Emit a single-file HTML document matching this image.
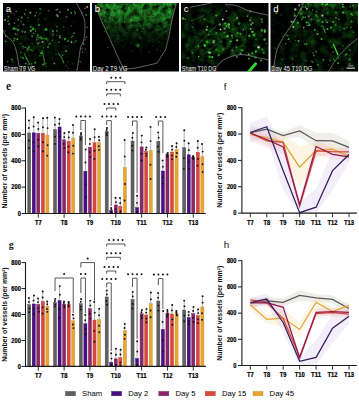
<!DOCTYPE html>
<html><head><meta charset="utf-8"><style>
html,body{margin:0;padding:0;background:#fff;width:359px;height:400px;overflow:hidden}
svg{display:block}
</style></head><body>
<svg width="359" height="400" viewBox="0 0 359 400">
<rect width="359" height="400" fill="#fff"/>
<defs>
<filter id="nz" x="0" y="0" width="1" height="1" color-interpolation-filters="sRGB"><feTurbulence type="fractalNoise" baseFrequency="0.22" numOctaves="3" seed="4"/><feColorMatrix type="matrix" values="0.4 0 0 0 -0.16  1.3 0 0 0 -0.44  0.35 0 0 0 -0.14  0 0 0 0 1"/><feGaussianBlur stdDeviation="0.35"/></filter>
<filter id="nzb" x="0" y="0" width="1" height="1" color-interpolation-filters="sRGB"><feTurbulence type="fractalNoise" baseFrequency="0.18" numOctaves="3" seed="9"/><feColorMatrix type="matrix" values="0.3 0 0 0 -0.06  1.2 0 0 0 -0.22  0.32 0 0 0 -0.06  0 0 0 0 1"/><feGaussianBlur stdDeviation="0.5"/></filter>
<filter id="nzc" x="0" y="0" width="1" height="1" color-interpolation-filters="sRGB"><feTurbulence type="fractalNoise" baseFrequency="0.13" numOctaves="3" seed="12"/><feColorMatrix type="matrix" values="0.35 0 0 0 -0.13  1.5 0 0 0 -0.55  0.35 0 0 0 -0.13  0 0 0 0 1"/><feGaussianBlur stdDeviation="0.4"/></filter>
<filter id="bl" x="-0.1" y="-0.1" width="1.2" height="1.2"><feGaussianBlur stdDeviation="0.3"/></filter>
<linearGradient id="gbm" x1="0" y1="0" x2="0" y2="1"><stop offset="0" stop-color="#fff"/><stop offset="0.2" stop-color="#ddd"/><stop offset="0.42" stop-color="#555"/><stop offset="0.6" stop-color="#151515"/><stop offset="0.75" stop-color="#000"/></linearGradient>
<radialGradient id="gcm" cx="0.45" cy="0.55" r="0.6"><stop offset="0" stop-color="#999"/><stop offset="0.6" stop-color="#666"/><stop offset="1" stop-color="#222"/></radialGradient>
<linearGradient id="gdm" x1="0" y1="0" x2="0" y2="1"><stop offset="0" stop-color="#aaa"/><stop offset="0.35" stop-color="#5a5a5a"/><stop offset="1" stop-color="#333"/></linearGradient>
<radialGradient id="gam" cx="0.45" cy="0.6" r="0.5"><stop offset="0" stop-color="#fff"/><stop offset="1" stop-color="#000"/></radialGradient>
<mask id="ma" maskUnits="userSpaceOnUse" x="0" y="0" width="359" height="80"><rect x="3" y="3" width="87" height="69" fill="url(#gam)"/></mask>
<mask id="mb" maskUnits="userSpaceOnUse" x="0" y="0" width="359" height="80"><path d="M97 10 L110.4 40 L124 69.3 L157 63.2 L165.5 49.7 L172 20 L176.4 3 L97 3 Z" fill="url(#gbm)"/></mask>
<mask id="mc" maskUnits="userSpaceOnUse" x="0" y="0" width="359" height="80"><path d="M181 8 L190 7.3 L211.6 3 L225 4.2 L249.5 11 L269 15.3 L269 60 L241 54.6 L225 59 L214 68 L181 70 Z" fill="url(#gcm)"/></mask>
<mask id="md" maskUnits="userSpaceOnUse" x="0" y="0" width="359" height="80"><rect x="270.5" y="3" width="88" height="69" fill="url(#gdm)"/><path d="M270 3 L303.7 3 C296 18 286 32 280 45 C276 55 274 62 273 72 L270 72Z" fill="#000" opacity="0.85"/></mask>
</defs>
<clipPath id="ca"><rect x="3" y="3" width="87" height="68.5"/></clipPath>
<rect x="3" y="3" width="87" height="68.5" fill="#000"/>
<g clip-path="url(#ca)">
<rect x="3" y="3" width="87" height="68.5" filter="url(#nz)" mask="url(#ma)" opacity="0.35"/>
<g filter="url(#bl)">
<circle cx="42.55" cy="41.99" r="1.06" fill="rgb(135,159,130)" opacity="0.88"/>
<circle cx="20.76" cy="57.24" r="0.84" fill="rgb(53,178,44)" opacity="0.54"/>
<circle cx="30.18" cy="12.67" r="1" fill="rgb(56,188,47)" opacity="0.77"/>
<circle cx="37.88" cy="35.31" r="0.97" fill="rgb(155,183,150)" opacity="0.51"/>
<circle cx="48.86" cy="10.72" r="0.7" fill="rgb(110,130,106)" opacity="0.85"/>
<circle cx="32.08" cy="43.93" r="0.7" fill="rgb(38,129,32)" opacity="0.72"/>
<circle cx="59.98" cy="35.58" r="0.74" fill="rgb(51,170,42)" opacity="0.88"/>
<circle cx="63.75" cy="26.7" r="0.71" fill="rgb(115,136,111)" opacity="0.75"/>
<circle cx="13.96" cy="13.74" r="0.75" fill="rgb(32,108,27)" opacity="0.88"/>
<circle cx="5.05" cy="20.11" r="1.06" fill="rgb(136,160,131)" opacity="0.82"/>
<circle cx="39.84" cy="42.39" r="0.7" fill="rgb(158,186,152)" opacity="0.54"/>
<circle cx="32.6" cy="67.25" r="0.98" fill="rgb(97,115,94)" opacity="0.82"/>
<circle cx="5.91" cy="36.06" r="0.84" fill="rgb(158,187,153)" opacity="0.7"/>
<circle cx="20.83" cy="52.74" r="0.67" fill="rgb(154,182,149)" opacity="0.68"/>
<circle cx="87.17" cy="7.03" r="1.03" fill="rgb(148,175,143)" opacity="0.9"/>
<circle cx="22.49" cy="31.64" r="1.03" fill="rgb(154,182,149)" opacity="0.52"/>
<circle cx="17.15" cy="34.6" r="0.6" fill="rgb(151,178,145)" opacity="0.63"/>
<circle cx="11.09" cy="12.63" r="0.89" fill="rgb(111,131,107)" opacity="0.67"/>
<circle cx="56.64" cy="14.95" r="0.89" fill="rgb(147,173,141)" opacity="0.67"/>
<circle cx="57.06" cy="26.43" r="0.71" fill="rgb(151,178,145)" opacity="0.59"/>
<circle cx="66.37" cy="65.78" r="0.7" fill="rgb(44,149,37)" opacity="0.77"/>
<circle cx="39.98" cy="13.49" r="0.62" fill="rgb(112,132,108)" opacity="0.82"/>
<circle cx="26.33" cy="58.48" r="0.9" fill="rgb(116,137,112)" opacity="0.92"/>
<circle cx="86.11" cy="14.9" r="0.84" fill="rgb(54,183,45)" opacity="0.78"/>
<circle cx="28.26" cy="64.34" r="0.7" fill="rgb(86,102,83)" opacity="0.69"/>
<circle cx="25.67" cy="9.91" r="0.74" fill="rgb(141,167,136)" opacity="0.56"/>
<circle cx="35.06" cy="62.68" r="1.09" fill="rgb(55,184,46)" opacity="0.73"/>
<circle cx="83.59" cy="43.87" r="1.06" fill="rgb(48,160,40)" opacity="0.82"/>
<circle cx="84.91" cy="8.33" r="0.92" fill="rgb(136,161,132)" opacity="0.64"/>
<circle cx="16.34" cy="11.53" r="0.83" fill="rgb(44,147,36)" opacity="0.91"/>
<circle cx="66.18" cy="50.98" r="1" fill="rgb(121,143,117)" opacity="0.81"/>
<circle cx="79.77" cy="61.44" r="0.81" fill="rgb(30,103,25)" opacity="0.76"/>
<circle cx="56.87" cy="30.9" r="0.89" fill="rgb(150,177,145)" opacity="0.54"/>
<circle cx="14.59" cy="23.08" r="0.81" fill="rgb(120,142,116)" opacity="0.83"/>
<circle cx="53.22" cy="34.53" r="1.02" fill="rgb(93,110,90)" opacity="0.73"/>
<circle cx="30.75" cy="12.48" r="0.61" fill="rgb(160,189,154)" opacity="0.85"/>
<circle cx="59.79" cy="37.39" r="1.05" fill="rgb(124,147,120)" opacity="0.81"/>
<circle cx="21.81" cy="17.6" r="1.05" fill="rgb(55,184,46)" opacity="0.72"/>
<circle cx="25.04" cy="32.3" r="0.73" fill="rgb(153,181,148)" opacity="0.86"/>
<circle cx="80.88" cy="62.02" r="0.79" fill="rgb(52,174,43)" opacity="0.59"/>
<circle cx="16.17" cy="28.92" r="1.05" fill="rgb(31,105,26)" opacity="0.93"/>
<circle cx="27.97" cy="17.57" r="0.83" fill="rgb(40,135,33)" opacity="0.87"/>
<circle cx="36.75" cy="39.5" r="0.94" fill="rgb(152,179,146)" opacity="0.53"/>
<circle cx="7.61" cy="61.55" r="0.62" fill="rgb(161,190,155)" opacity="0.66"/>
<circle cx="58.89" cy="42.25" r="0.92" fill="rgb(128,151,123)" opacity="0.51"/>
<circle cx="73.86" cy="21.84" r="0.67" fill="rgb(31,106,26)" opacity="0.55"/>
<circle cx="14.05" cy="40.46" r="0.92" fill="rgb(44,147,36)" opacity="0.81"/>
<circle cx="21.55" cy="36.7" r="0.69" fill="rgb(30,101,25)" opacity="0.74"/>
<circle cx="8" cy="21.15" r="0.99" fill="rgb(50,169,42)" opacity="0.73"/>
<circle cx="56" cy="54.26" r="0.8" fill="rgb(56,189,47)" opacity="0.54"/>
<circle cx="82.41" cy="52.15" r="0.66" fill="rgb(134,158,129)" opacity="0.9"/>
<circle cx="5.56" cy="41.38" r="0.93" fill="rgb(49,164,41)" opacity="0.92"/>
<circle cx="43.49" cy="47.71" r="0.7" fill="rgb(54,182,45)" opacity="0.56"/>
<circle cx="25.11" cy="31.39" r="0.64" fill="rgb(118,139,113)" opacity="0.86"/>
<circle cx="31.59" cy="63.87" r="1.03" fill="rgb(122,144,118)" opacity="0.52"/>
<circle cx="33.39" cy="33.34" r="0.74" fill="rgb(87,103,84)" opacity="0.89"/>
<circle cx="40.6" cy="9.19" r="0.87" fill="rgb(56,187,46)" opacity="0.56"/>
<circle cx="17.34" cy="39.28" r="0.96" fill="rgb(55,186,46)" opacity="0.93"/>
<circle cx="45.88" cy="66.32" r="0.64" fill="rgb(108,128,104)" opacity="0.75"/>
<circle cx="73.99" cy="42.1" r="0.68" fill="rgb(49,165,41)" opacity="0.75"/>
<circle cx="30.87" cy="30.83" r="1.02" fill="rgb(151,178,145)" opacity="0.88"/>
<circle cx="85.38" cy="39.76" r="0.89" fill="rgb(106,125,102)" opacity="0.55"/>
<circle cx="5.41" cy="30.56" r="0.87" fill="rgb(89,105,86)" opacity="0.68"/>
<circle cx="71.49" cy="42.18" r="0.85" fill="rgb(159,188,154)" opacity="0.92"/>
<circle cx="43.09" cy="64.55" r="1" fill="rgb(128,151,123)" opacity="0.71"/>
<circle cx="15.54" cy="34.1" r="1.01" fill="rgb(136,160,131)" opacity="0.55"/>
<circle cx="39.82" cy="8.84" r="0.73" fill="rgb(56,189,47)" opacity="0.51"/>
<circle cx="21.11" cy="21.2" r="0.94" fill="rgb(42,141,35)" opacity="0.61"/>
<circle cx="46.4" cy="38.23" r="0.89" fill="rgb(49,165,41)" opacity="0.82"/>
<circle cx="63.21" cy="61.92" r="0.61" fill="rgb(153,181,148)" opacity="0.74"/>
<circle cx="18.26" cy="19.77" r="0.92" fill="rgb(153,181,148)" opacity="0.6"/>
<circle cx="50.06" cy="43.67" r="0.67" fill="rgb(54,180,45)" opacity="0.91"/>
<circle cx="31.22" cy="26.69" r="1.06" fill="rgb(38,127,31)" opacity="0.59"/>
<circle cx="13.04" cy="62.56" r="0.67" fill="rgb(94,111,91)" opacity="0.54"/>
<circle cx="74.07" cy="33.35" r="0.99" fill="rgb(98,116,95)" opacity="0.78"/>
<circle cx="71.31" cy="13" r="0.88" fill="rgb(43,145,36)" opacity="0.94"/>
<circle cx="14.58" cy="38.61" r="0.98" fill="rgb(49,164,41)" opacity="0.87"/>
<circle cx="71.64" cy="37.13" r="0.61" fill="rgb(51,170,42)" opacity="0.91"/>
<circle cx="44.95" cy="18.85" r="0.66" fill="rgb(36,122,30)" opacity="0.95"/>
<circle cx="81.93" cy="12.95" r="0.63" fill="rgb(158,187,153)" opacity="0.84"/>
<circle cx="32.13" cy="36.18" r="0.86" fill="rgb(131,155,127)" opacity="0.67"/>
<circle cx="57.62" cy="9.55" r="0.7" fill="rgb(129,152,124)" opacity="0.83"/>
<circle cx="38.64" cy="19.2" r="0.68" fill="rgb(49,165,41)" opacity="0.65"/>
<circle cx="12.04" cy="59.62" r="1.04" fill="rgb(54,180,45)" opacity="0.76"/>
<circle cx="20.85" cy="43.54" r="0.77" fill="rgb(113,133,109)" opacity="0.55"/>
<circle cx="66.67" cy="17" r="1.07" fill="rgb(35,117,29)" opacity="0.9"/>
<circle cx="62.67" cy="54.95" r="0.98" fill="rgb(128,151,123)" opacity="0.58"/>
<circle cx="71.18" cy="25.86" r="0.65" fill="rgb(43,145,36)" opacity="0.91"/>
<circle cx="9.11" cy="24.06" r="1.08" fill="rgb(117,138,113)" opacity="0.8"/>
<circle cx="52.27" cy="40.32" r="0.79" fill="rgb(48,163,40)" opacity="0.82"/>
<circle cx="68.22" cy="68.26" r="0.61" fill="rgb(151,178,145)" opacity="0.61"/>
<circle cx="41.82" cy="38.55" r="0.98" fill="rgb(154,182,149)" opacity="0.54"/>
<circle cx="25.82" cy="63.6" r="0.88" fill="rgb(140,165,135)" opacity="0.73"/>
<circle cx="75.25" cy="13.23" r="0.82" fill="rgb(154,182,149)" opacity="0.77"/>
<circle cx="68.02" cy="9.82" r="1.07" fill="rgb(102,120,98)" opacity="0.94"/>
<circle cx="76.02" cy="40.87" r="0.9" fill="rgb(46,154,38)" opacity="0.69"/>
<circle cx="48.72" cy="44.36" r="0.78" fill="rgb(115,136,111)" opacity="0.62"/>
<circle cx="82.15" cy="48.47" r="0.97" fill="rgb(87,103,84)" opacity="0.61"/>
<circle cx="8.55" cy="16.79" r="0.98" fill="rgb(126,149,122)" opacity="0.64"/>
<circle cx="38.02" cy="43.36" r="0.96" fill="rgb(119,140,114)" opacity="0.91"/>
<circle cx="40.65" cy="36.85" r="1.09" fill="rgb(111,131,107)" opacity="0.54"/>
<circle cx="72.24" cy="63.84" r="0.67" fill="rgb(39,131,32)" opacity="0.55"/>
<circle cx="56.81" cy="35.48" r="0.7" fill="rgb(90,106,86)" opacity="0.57"/>
<circle cx="35.15" cy="15.74" r="0.81" fill="rgb(149,176,144)" opacity="0.76"/>
<circle cx="39.82" cy="55.62" r="0.87" fill="rgb(35,117,29)" opacity="0.83"/>
<circle cx="24.79" cy="14.12" r="1.05" fill="rgb(49,164,41)" opacity="0.66"/>
<circle cx="27.54" cy="49.81" r="0.88" fill="rgb(148,175,143)" opacity="0.63"/>
<circle cx="24.87" cy="66.49" r="0.85" fill="rgb(54,183,45)" opacity="0.9"/>
<circle cx="8.28" cy="10.8" r="0.74" fill="rgb(130,154,126)" opacity="0.52"/>
<circle cx="23.47" cy="24.39" r="0.98" fill="rgb(158,186,152)" opacity="0.61"/>
<circle cx="86.46" cy="37.25" r="0.78" fill="rgb(121,143,117)" opacity="0.84"/>
<circle cx="74.6" cy="11.65" r="0.66" fill="rgb(53,179,44)" opacity="0.85"/>
<circle cx="41.88" cy="53.71" r="0.8" fill="rgb(101,119,97)" opacity="0.79"/>
<circle cx="87.1" cy="27.34" r="0.87" fill="rgb(104,123,100)" opacity="0.67"/>
<circle cx="13.05" cy="61.7" r="0.64" fill="rgb(93,110,90)" opacity="0.76"/>
<circle cx="72.67" cy="35.97" r="1.01" fill="rgb(85,101,82)" opacity="0.6"/>
<circle cx="59.95" cy="12.11" r="0.75" fill="rgb(159,188,154)" opacity="0.9"/>
<circle cx="23.16" cy="48.08" r="0.76" fill="rgb(97,115,94)" opacity="0.7"/>
<circle cx="54.37" cy="63.4" r="0.94" fill="rgb(114,135,110)" opacity="0.86"/>
<circle cx="30.3" cy="26.85" r="0.8" fill="rgb(141,166,136)" opacity="0.66"/>
<circle cx="35.34" cy="29.71" r="0.8" fill="rgb(44,149,37)" opacity="0.83"/>
<circle cx="35.56" cy="31.39" r="0.68" fill="rgb(148,175,143)" opacity="0.58"/>
<circle cx="67.99" cy="62.06" r="0.74" fill="rgb(86,102,83)" opacity="0.53"/>
<circle cx="18.17" cy="25.49" r="0.61" fill="rgb(130,154,126)" opacity="0.75"/>
<circle cx="70.41" cy="12.25" r="0.64" fill="rgb(33,113,28)" opacity="0.54"/>
<circle cx="57.63" cy="15.99" r="0.97" fill="rgb(155,183,150)" opacity="0.82"/>
<circle cx="45.59" cy="63.73" r="0.77" fill="rgb(134,158,129)" opacity="0.65"/>
<circle cx="85.37" cy="49.02" r="0.85" fill="rgb(50,168,42)" opacity="0.53"/>
<circle cx="56.31" cy="9.89" r="0.98" fill="rgb(157,185,151)" opacity="0.5"/>
<circle cx="36.37" cy="12.58" r="0.83" fill="rgb(50,169,42)" opacity="0.74"/>
</g>
<circle cx="14" cy="28.5" r="1.6" fill="#2f9a2f" opacity="0.9" filter="url(#bl)"/>
<circle cx="18" cy="30" r="1.2" fill="#2f9a2f" opacity="0.9" filter="url(#bl)"/>
<circle cx="33" cy="29" r="1.4" fill="#2f9a2f" opacity="0.9" filter="url(#bl)"/>
<circle cx="46" cy="29.5" r="1.5" fill="#2f9a2f" opacity="0.9" filter="url(#bl)"/>
<circle cx="53" cy="31" r="1.1" fill="#2f9a2f" opacity="0.9" filter="url(#bl)"/>
<circle cx="65" cy="39" r="1.2" fill="#2f9a2f" opacity="0.9" filter="url(#bl)"/>
<circle cx="68" cy="41" r="1" fill="#2f9a2f" opacity="0.9" filter="url(#bl)"/>
<circle cx="39" cy="25" r="1" fill="#2f9a2f" opacity="0.9" filter="url(#bl)"/>
<circle cx="23" cy="58" r="1" fill="#2f9a2f" opacity="0.9" filter="url(#bl)"/>
<circle cx="41" cy="53" r="1.1" fill="#2f9a2f" opacity="0.9" filter="url(#bl)"/>
<circle cx="48" cy="47" r="1" fill="#2f9a2f" opacity="0.9" filter="url(#bl)"/>
<circle cx="29" cy="47" r="1" fill="#2f9a2f" opacity="0.9" filter="url(#bl)"/>
<path d="M22 46 q5 2 11 5 M24 53 q3 6 6 12 M42 50 q2 8 3 15 M36 37 q6 1 12 3 M58 53 q4 4 6 10" stroke="#268026" stroke-width="1.1" fill="none" filter="url(#bl)" opacity="0.9"/>
<path d="M76.4 3 C77.63 5.45 82.37 13.62 83.8 17.7 C85.23 21.78 85 23.78 85 27.5 C85 31.22 84.52 36.7 83.8 40 C83.08 43.3 81.63 43.43 80.7 47.3 C79.77 51.17 78.92 58.92 78.2 63.2 C77.48 67.48 76.7 71.37 76.4 73" stroke="#8c8c8c" stroke-width="0.7" fill="none"/>
<path d="M3 30 C3.42 30.83 4 33.17 5.5 35 C7 36.83 10.37 38.95 12 41 C13.63 43.05 14.38 44.63 15.3 47.3 C16.22 49.97 16.88 53.95 17.5 57 C18.12 60.05 18.42 62.93 19 65.6 C19.58 68.27 20.67 71.77 21 73" stroke="#8c8c8c" stroke-width="0.7" fill="none"/>
</g>
<text x="5.8" y="11.6" font-size="9.6" fill="#fff" font-family="Liberation Sans">a</text>
<text x="3.8" y="70.6" font-size="6.7" fill="#f0f0f0" font-family="Liberation Sans" textLength="31.5" lengthAdjust="spacingAndGlyphs">Sham T9 VG</text>
<clipPath id="cb"><rect x="92" y="3" width="87" height="68.5"/></clipPath>
<rect x="92" y="3" width="87" height="68.5" fill="#000"/>
<g clip-path="url(#cb)">
<rect x="92" y="3" width="87" height="68.5" filter="url(#nzb)" mask="url(#mb)"/>
<circle cx="168.12" cy="7.21" r="0.41" fill="rgb(38,127,31)" opacity="0.46"/>
<circle cx="146.95" cy="13.37" r="0.84" fill="rgb(29,99,24)" opacity="0.42"/>
<circle cx="169.35" cy="8.37" r="0.68" fill="rgb(48,163,40)" opacity="0.75"/>
<circle cx="105.34" cy="29.44" r="0.69" fill="rgb(32,109,27)" opacity="0.49"/>
<circle cx="109.7" cy="18.93" r="0.76" fill="rgb(120,142,116)" opacity="0.56"/>
<circle cx="125.1" cy="8.53" r="0.6" fill="rgb(50,169,42)" opacity="0.88"/>
<circle cx="137.56" cy="11.39" r="0.54" fill="rgb(47,158,39)" opacity="0.42"/>
<circle cx="138.7" cy="3.97" r="0.86" fill="rgb(40,134,33)" opacity="0.84"/>
<circle cx="129.41" cy="30.73" r="0.49" fill="rgb(42,142,35)" opacity="0.69"/>
<circle cx="122.51" cy="20.87" r="0.67" fill="rgb(37,125,31)" opacity="0.85"/>
<circle cx="131.49" cy="5.72" r="0.62" fill="rgb(24,82,20)" opacity="0.6"/>
<circle cx="166.14" cy="31.56" r="0.66" fill="rgb(102,121,99)" opacity="0.63"/>
<circle cx="115.35" cy="3.9" r="0.59" fill="rgb(27,92,23)" opacity="0.58"/>
<circle cx="115.2" cy="4.11" r="0.67" fill="rgb(50,169,42)" opacity="0.5"/>
<circle cx="149.86" cy="4.56" r="0.61" fill="rgb(26,88,22)" opacity="0.63"/>
<circle cx="160.41" cy="17.96" r="0.66" fill="rgb(43,144,36)" opacity="0.74"/>
<circle cx="161.23" cy="17.29" r="0.43" fill="rgb(48,161,40)" opacity="0.79"/>
<circle cx="158.57" cy="21.25" r="0.87" fill="rgb(21,72,18)" opacity="0.58"/>
<circle cx="106.42" cy="5.92" r="0.71" fill="rgb(43,146,36)" opacity="0.53"/>
<circle cx="104.89" cy="32.01" r="0.58" fill="rgb(25,85,21)" opacity="0.67"/>
<circle cx="135.58" cy="5.04" r="0.41" fill="rgb(141,166,136)" opacity="0.63"/>
<circle cx="116.33" cy="13.32" r="0.77" fill="rgb(41,137,34)" opacity="0.42"/>
<circle cx="128.07" cy="28.47" r="0.42" fill="rgb(28,96,24)" opacity="0.72"/>
<circle cx="105.39" cy="23.66" r="0.61" fill="rgb(30,102,25)" opacity="0.52"/>
<circle cx="120.37" cy="4.96" r="0.73" fill="rgb(27,90,22)" opacity="0.88"/>
<circle cx="124" cy="3.9" r="0.48" fill="rgb(89,105,86)" opacity="0.64"/>
<circle cx="104.06" cy="25.99" r="0.4" fill="rgb(45,150,37)" opacity="0.63"/>
<circle cx="147.62" cy="16.29" r="0.61" fill="rgb(34,115,28)" opacity="0.83"/>
<circle cx="158.42" cy="3.27" r="0.59" fill="rgb(128,151,123)" opacity="0.82"/>
<circle cx="167.86" cy="21.63" r="0.72" fill="rgb(31,105,26)" opacity="0.66"/>
<circle cx="115" cy="11.33" r="0.48" fill="rgb(40,135,33)" opacity="0.65"/>
<circle cx="111.37" cy="19.17" r="0.65" fill="rgb(33,113,28)" opacity="0.78"/>
<circle cx="128.68" cy="22.67" r="0.5" fill="rgb(76,90,73)" opacity="0.86"/>
<circle cx="125.34" cy="4.63" r="0.66" fill="rgb(26,89,22)" opacity="0.58"/>
<circle cx="167.74" cy="3.02" r="0.56" fill="rgb(142,168,137)" opacity="0.87"/>
<circle cx="149.37" cy="27.2" r="0.81" fill="rgb(24,82,20)" opacity="0.86"/>
<circle cx="119.78" cy="12.09" r="0.56" fill="rgb(36,122,30)" opacity="0.66"/>
<circle cx="139.88" cy="12.67" r="0.74" fill="rgb(138,163,133)" opacity="0.52"/>
<circle cx="137.32" cy="31.58" r="0.74" fill="rgb(21,70,17)" opacity="0.43"/>
<circle cx="165.88" cy="11.95" r="0.41" fill="rgb(93,110,90)" opacity="0.85"/>
<circle cx="158.9" cy="30.56" r="0.48" fill="rgb(31,106,26)" opacity="0.58"/>
<circle cx="158.12" cy="12.2" r="0.67" fill="rgb(44,149,37)" opacity="0.59"/>
<circle cx="104.79" cy="31.51" r="0.66" fill="rgb(82,97,79)" opacity="0.81"/>
<circle cx="153.85" cy="19.69" r="0.62" fill="rgb(30,102,25)" opacity="0.81"/>
<circle cx="109.82" cy="17.42" r="0.8" fill="rgb(40,134,33)" opacity="0.74"/>
<circle cx="116.22" cy="6.97" r="0.73" fill="rgb(38,128,32)" opacity="0.67"/>
<circle cx="129.23" cy="16.77" r="0.83" fill="rgb(37,126,31)" opacity="0.54"/>
<circle cx="102.7" cy="5.46" r="0.48" fill="rgb(38,128,32)" opacity="0.44"/>
<circle cx="140.87" cy="26.74" r="0.53" fill="rgb(73,86,70)" opacity="0.86"/>
<circle cx="142.38" cy="12.1" r="0.52" fill="rgb(47,158,39)" opacity="0.8"/>
<circle cx="152.94" cy="16.47" r="0.76" fill="rgb(50,169,42)" opacity="0.86"/>
<circle cx="140.39" cy="27.69" r="0.53" fill="rgb(28,96,24)" opacity="0.51"/>
<circle cx="138.57" cy="23.46" r="0.69" fill="rgb(44,147,36)" opacity="0.71"/>
<circle cx="118.66" cy="16.81" r="0.8" fill="rgb(25,85,21)" opacity="0.51"/>
<circle cx="130.68" cy="6.84" r="0.77" fill="rgb(22,75,18)" opacity="0.65"/>
<circle cx="146.94" cy="6.26" r="0.8" fill="rgb(40,135,33)" opacity="0.52"/>
<circle cx="110.99" cy="14.18" r="0.72" fill="rgb(87,103,84)" opacity="0.48"/>
<circle cx="170.71" cy="13.07" r="0.64" fill="rgb(27,90,22)" opacity="0.48"/>
<circle cx="108.9" cy="14.12" r="0.64" fill="rgb(27,92,23)" opacity="0.75"/>
<circle cx="148.14" cy="23.58" r="0.67" fill="rgb(33,111,27)" opacity="0.69"/>
<circle cx="117.75" cy="8.39" r="0.83" fill="rgb(22,76,19)" opacity="0.58"/>
<circle cx="102.69" cy="18.89" r="0.88" fill="rgb(36,122,30)" opacity="0.57"/>
<circle cx="131.7" cy="24.97" r="0.52" fill="rgb(36,122,30)" opacity="0.68"/>
<circle cx="144.37" cy="11.2" r="0.76" fill="rgb(33,111,27)" opacity="0.66"/>
<circle cx="164.42" cy="23.7" r="0.67" fill="rgb(27,90,22)" opacity="0.81"/>
<circle cx="102.87" cy="22.75" r="0.61" fill="rgb(34,116,29)" opacity="0.83"/>
<circle cx="128.83" cy="11.66" r="0.71" fill="rgb(27,91,22)" opacity="0.9"/>
<circle cx="109.57" cy="16.92" r="0.5" fill="rgb(36,121,30)" opacity="0.63"/>
<circle cx="113.42" cy="3.58" r="0.46" fill="rgb(30,103,25)" opacity="0.72"/>
<circle cx="135.63" cy="11.41" r="0.7" fill="rgb(34,115,28)" opacity="0.58"/>
<circle cx="107.63" cy="17.07" r="0.51" fill="rgb(28,94,23)" opacity="0.48"/>
<circle cx="157.94" cy="26.22" r="0.78" fill="rgb(34,116,29)" opacity="0.41"/>
<circle cx="164.05" cy="27.28" r="0.66" fill="rgb(40,135,33)" opacity="0.41"/>
<circle cx="112.35" cy="12.32" r="0.83" fill="rgb(113,133,109)" opacity="0.57"/>
<circle cx="109.7" cy="9.85" r="0.58" fill="rgb(36,123,30)" opacity="0.53"/>
<circle cx="164.92" cy="26.44" r="0.71" fill="rgb(47,157,39)" opacity="0.78"/>
<circle cx="125.8" cy="10.7" r="0.46" fill="rgb(32,107,26)" opacity="0.86"/>
<circle cx="149.08" cy="13.45" r="0.9" fill="rgb(125,148,121)" opacity="0.55"/>
<circle cx="129.09" cy="30.3" r="0.5" fill="rgb(82,97,79)" opacity="0.56"/>
<circle cx="111.13" cy="5.09" r="0.74" fill="rgb(22,76,19)" opacity="0.82"/>
<circle cx="122.24" cy="6.59" r="0.45" fill="rgb(21,70,17)" opacity="0.41"/>
<circle cx="145.76" cy="21.49" r="0.78" fill="rgb(36,122,30)" opacity="0.47"/>
<circle cx="137.46" cy="10.18" r="0.56" fill="rgb(22,75,18)" opacity="0.44"/>
<circle cx="154.17" cy="16.27" r="0.8" fill="rgb(40,134,33)" opacity="0.52"/>
<circle cx="110.77" cy="20.88" r="0.74" fill="rgb(134,158,129)" opacity="0.43"/>
<circle cx="148.83" cy="3.9" r="0.87" fill="rgb(40,136,34)" opacity="0.45"/>
<circle cx="131.04" cy="28.02" r="0.45" fill="rgb(25,84,21)" opacity="0.7"/>
<circle cx="126.63" cy="9.36" r="0.7" fill="rgb(73,87,71)" opacity="0.55"/>
<circle cx="143.29" cy="28.48" r="0.83" fill="rgb(33,111,27)" opacity="0.82"/>
<circle cx="151.88" cy="31.8" r="0.57" fill="rgb(34,116,29)" opacity="0.44"/>
<circle cx="153.02" cy="31.98" r="0.8" fill="rgb(36,122,30)" opacity="0.49"/>
<circle cx="157.84" cy="5.94" r="0.48" fill="rgb(30,100,25)" opacity="0.52"/>
<circle cx="131.72" cy="5.67" r="0.59" fill="rgb(45,153,38)" opacity="0.66"/>
<circle cx="155.75" cy="5.62" r="0.58" fill="rgb(111,131,107)" opacity="0.55"/>
<circle cx="121.2" cy="7.25" r="0.85" fill="rgb(44,147,36)" opacity="0.67"/>
<circle cx="170.05" cy="20.9" r="0.7" fill="rgb(36,120,30)" opacity="0.52"/>
<circle cx="134.85" cy="17.93" r="0.46" fill="rgb(39,131,32)" opacity="0.75"/>
<circle cx="141.33" cy="14.01" r="0.41" fill="rgb(46,154,38)" opacity="0.78"/>
<circle cx="161.21" cy="29.9" r="0.64" fill="rgb(31,105,26)" opacity="0.41"/>
<circle cx="119.19" cy="13.42" r="0.51" fill="rgb(35,118,29)" opacity="0.51"/>
<circle cx="116.84" cy="18.68" r="0.42" fill="rgb(68,81,66)" opacity="0.78"/>
<circle cx="130.98" cy="20.81" r="0.77" fill="rgb(132,156,127)" opacity="0.79"/>
<circle cx="110.94" cy="5.3" r="0.66" fill="rgb(41,139,34)" opacity="0.83"/>
<circle cx="124.92" cy="31.99" r="0.77" fill="rgb(24,80,20)" opacity="0.81"/>
<circle cx="115.54" cy="18.48" r="0.67" fill="rgb(48,162,40)" opacity="0.45"/>
<circle cx="113.31" cy="11.47" r="0.53" fill="rgb(33,113,28)" opacity="0.68"/>
<circle cx="126.47" cy="9.77" r="0.58" fill="rgb(36,121,30)" opacity="0.52"/>
<circle cx="165.78" cy="4.46" r="0.54" fill="rgb(23,79,19)" opacity="0.71"/>
<circle cx="165.75" cy="22.98" r="0.47" fill="rgb(36,121,30)" opacity="0.72"/>
<circle cx="122.55" cy="18.38" r="0.7" fill="rgb(25,86,21)" opacity="0.79"/>
<circle cx="132.77" cy="9.41" r="0.42" fill="rgb(40,134,33)" opacity="0.41"/>
<circle cx="141.72" cy="31" r="0.77" fill="rgb(43,145,36)" opacity="0.45"/>
<circle cx="103.49" cy="12.16" r="0.85" fill="rgb(104,123,100)" opacity="0.48"/>
<circle cx="154" cy="11.2" r="0.55" fill="rgb(42,143,35)" opacity="0.57"/>
<circle cx="112.77" cy="29.96" r="0.72" fill="rgb(35,118,29)" opacity="0.42"/>
<circle cx="162.47" cy="18.85" r="0.84" fill="rgb(48,163,40)" opacity="0.77"/>
<circle cx="124.84" cy="22.13" r="0.89" fill="rgb(48,161,40)" opacity="0.72"/>
<circle cx="111.32" cy="8.91" r="0.7" fill="rgb(45,153,38)" opacity="0.89"/>
<circle cx="116.46" cy="17.39" r="0.42" fill="rgb(104,123,100)" opacity="0.61"/>
<circle cx="144.53" cy="15.88" r="0.49" fill="rgb(113,134,109)" opacity="0.85"/>
<circle cx="166.21" cy="15.07" r="0.67" fill="rgb(30,101,25)" opacity="0.67"/>
<circle cx="157.26" cy="29.74" r="0.88" fill="rgb(27,91,22)" opacity="0.79"/>
<circle cx="149.77" cy="16.04" r="0.52" fill="rgb(39,133,33)" opacity="0.8"/>
<circle cx="104.13" cy="21.39" r="0.61" fill="rgb(118,139,113)" opacity="0.44"/>
<circle cx="149.45" cy="12.79" r="0.62" fill="rgb(102,121,99)" opacity="0.83"/>
<circle cx="131.57" cy="19.04" r="0.51" fill="rgb(33,113,28)" opacity="0.55"/>
<circle cx="137.54" cy="29.83" r="0.84" fill="rgb(39,131,32)" opacity="0.82"/>
<circle cx="124.65" cy="8.02" r="0.76" fill="rgb(76,90,73)" opacity="0.59"/>
<circle cx="146.53" cy="18.21" r="0.66" fill="rgb(24,81,20)" opacity="0.41"/>
<circle cx="131.93" cy="25.44" r="0.58" fill="rgb(36,120,30)" opacity="0.61"/>
<circle cx="136.89" cy="29.07" r="0.82" fill="rgb(27,92,23)" opacity="0.53"/>
<circle cx="154.98" cy="18.43" r="0.56" fill="rgb(34,116,29)" opacity="0.73"/>
<circle cx="163.65" cy="32.57" r="0.9" fill="rgb(25,85,21)" opacity="0.72"/>
<circle cx="169.77" cy="17.87" r="0.5" fill="rgb(50,167,41)" opacity="0.65"/>
<circle cx="116.16" cy="30.82" r="0.78" fill="rgb(27,91,22)" opacity="0.48"/>
<circle cx="103.12" cy="31.02" r="0.41" fill="rgb(21,73,18)" opacity="0.46"/>
<circle cx="145.35" cy="10.34" r="0.74" fill="rgb(38,129,32)" opacity="0.7"/>
<circle cx="129.75" cy="4.93" r="0.81" fill="rgb(30,102,25)" opacity="0.55"/>
<circle cx="102.06" cy="5.98" r="0.79" fill="rgb(116,137,112)" opacity="0.52"/>
<circle cx="129.75" cy="5.05" r="0.72" fill="rgb(27,92,23)" opacity="0.87"/>
<circle cx="157.91" cy="25.38" r="0.56" fill="rgb(39,130,32)" opacity="0.78"/>
<circle cx="158.36" cy="19.04" r="0.4" fill="rgb(132,156,127)" opacity="0.56"/>
<circle cx="102.29" cy="11.01" r="0.8" fill="rgb(132,156,127)" opacity="0.41"/>
<circle cx="150.15" cy="11.75" r="0.83" fill="rgb(38,129,32)" opacity="0.69"/>
<circle cx="170.61" cy="3.99" r="0.41" fill="rgb(48,160,40)" opacity="0.56"/>
<circle cx="118.78" cy="16.43" r="0.43" fill="rgb(27,90,22)" opacity="0.78"/>
<circle cx="163.89" cy="4.99" r="0.81" fill="rgb(34,114,28)" opacity="0.83"/>
<circle cx="170.09" cy="16.28" r="0.64" fill="rgb(46,156,39)" opacity="0.65"/>
<circle cx="125.3" cy="9.48" r="0.48" fill="rgb(61,72,59)" opacity="0.53"/>
<circle cx="118.16" cy="4.5" r="0.41" fill="rgb(40,135,33)" opacity="0.4"/>
<circle cx="110.26" cy="33.03" r="0.72" fill="rgb(20,69,17)" opacity="0.65"/>
<circle cx="166.89" cy="34.45" r="0.68" fill="rgb(32,107,26)" opacity="0.68"/>
<circle cx="119.87" cy="30.37" r="0.41" fill="rgb(40,136,34)" opacity="0.46"/>
<circle cx="145.96" cy="47.92" r="0.78" fill="rgb(68,81,66)" opacity="0.34"/>
<circle cx="149.01" cy="41.1" r="0.76" fill="rgb(28,95,23)" opacity="0.46"/>
<circle cx="144.1" cy="31.69" r="0.63" fill="rgb(35,118,29)" opacity="0.56"/>
<circle cx="159.69" cy="28.93" r="0.41" fill="rgb(27,93,23)" opacity="0.64"/>
<circle cx="149.25" cy="28.23" r="0.61" fill="rgb(61,72,59)" opacity="0.7"/>
<circle cx="141.25" cy="31.4" r="0.61" fill="rgb(25,84,21)" opacity="0.42"/>
<circle cx="118.87" cy="43.8" r="0.46" fill="rgb(29,97,24)" opacity="0.69"/>
<circle cx="116.26" cy="29.99" r="0.45" fill="rgb(73,87,71)" opacity="0.65"/>
<circle cx="140.74" cy="52.4" r="0.53" fill="rgb(31,106,26)" opacity="0.55"/>
<circle cx="111.58" cy="36.53" r="0.73" fill="rgb(15,50,12)" opacity="0.42"/>
<circle cx="132.24" cy="39.23" r="0.42" fill="rgb(112,132,108)" opacity="0.51"/>
<circle cx="125.36" cy="41.98" r="0.49" fill="rgb(29,99,24)" opacity="0.33"/>
<circle cx="107.23" cy="47.21" r="0.55" fill="rgb(36,121,30)" opacity="0.69"/>
<circle cx="107.98" cy="47.58" r="0.75" fill="rgb(32,109,27)" opacity="0.61"/>
<circle cx="134.4" cy="44.99" r="0.54" fill="rgb(61,72,59)" opacity="0.48"/>
<circle cx="161.65" cy="43.7" r="0.61" fill="rgb(32,107,26)" opacity="0.63"/>
<circle cx="166.11" cy="37.42" r="0.44" fill="rgb(113,133,109)" opacity="0.61"/>
<circle cx="156.36" cy="38.74" r="0.43" fill="rgb(39,132,33)" opacity="0.78"/>
<circle cx="145.73" cy="44.86" r="0.44" fill="rgb(27,90,22)" opacity="0.48"/>
<circle cx="146.77" cy="44.71" r="0.74" fill="rgb(25,86,21)" opacity="0.3"/>
<circle cx="134.94" cy="44.66" r="0.71" fill="rgb(27,90,22)" opacity="0.51"/>
<circle cx="152.86" cy="39.05" r="0.76" fill="rgb(31,105,26)" opacity="0.32"/>
<circle cx="140.49" cy="49.97" r="0.66" fill="rgb(20,68,17)" opacity="0.74"/>
<circle cx="118.89" cy="30.41" r="0.51" fill="rgb(28,96,24)" opacity="0.36"/>
<circle cx="148.47" cy="40.02" r="0.73" fill="rgb(31,106,26)" opacity="0.39"/>
<circle cx="121.9" cy="30.88" r="0.54" fill="rgb(33,113,28)" opacity="0.64"/>
<circle cx="117.24" cy="36.24" r="0.51" fill="rgb(73,87,71)" opacity="0.36"/>
<circle cx="113.16" cy="28.72" r="0.52" fill="rgb(15,50,12)" opacity="0.42"/>
<circle cx="141.47" cy="47.23" r="0.52" fill="rgb(39,131,32)" opacity="0.62"/>
<circle cx="116.49" cy="39.01" r="0.54" fill="rgb(41,137,34)" opacity="0.74"/>
<circle cx="138.33" cy="45.75" r="0.66" fill="rgb(35,119,29)" opacity="0.63"/>
<circle cx="122.46" cy="40.27" r="0.65" fill="rgb(31,106,26)" opacity="0.37"/>
<circle cx="114.52" cy="37.52" r="0.52" fill="rgb(15,52,13)" opacity="0.41"/>
<circle cx="142.24" cy="43.05" r="0.57" fill="rgb(25,84,21)" opacity="0.46"/>
<circle cx="118.67" cy="38.73" r="0.77" fill="rgb(28,96,24)" opacity="0.53"/>
<circle cx="117.64" cy="41.65" r="0.74" fill="rgb(27,93,23)" opacity="0.6"/>
<circle cx="118.42" cy="35.67" r="0.56" fill="rgb(36,122,30)" opacity="0.7"/>
<circle cx="122.8" cy="46.68" r="0.58" fill="rgb(25,85,21)" opacity="0.75"/>
<circle cx="115.5" cy="41.4" r="0.69" fill="rgb(95,112,91)" opacity="0.48"/>
<circle cx="152.69" cy="45.69" r="0.7" fill="rgb(39,130,32)" opacity="0.32"/>
<circle cx="125.56" cy="28.97" r="0.44" fill="rgb(40,134,33)" opacity="0.55"/>
<circle cx="149.82" cy="46.11" r="0.45" fill="rgb(38,127,31)" opacity="0.51"/>
<circle cx="132.11" cy="51.21" r="0.67" fill="rgb(31,104,26)" opacity="0.64"/>
<circle cx="124.74" cy="45.14" r="0.41" fill="rgb(82,97,79)" opacity="0.31"/>
<circle cx="127.33" cy="32.85" r="0.5" fill="rgb(33,112,28)" opacity="0.51"/>
<circle cx="141.85" cy="35.13" r="0.74" fill="rgb(18,63,15)" opacity="0.37"/>
<circle cx="149.62" cy="52.88" r="0.47" fill="rgb(38,128,32)" opacity="0.44"/>
<circle cx="129.89" cy="43.26" r="0.51" fill="rgb(29,97,24)" opacity="0.49"/>
<circle cx="140.43" cy="42.28" r="0.55" fill="rgb(43,51,41)" opacity="0.37"/>
<circle cx="144" cy="33.75" r="0.69" fill="rgb(39,131,32)" opacity="0.46"/>
<circle cx="148.8" cy="36.65" r="0.55" fill="rgb(16,55,13)" opacity="0.64"/>
<circle cx="129.5" cy="28.2" r="0.78" fill="rgb(23,78,19)" opacity="0.34"/>
<circle cx="131.43" cy="42.7" r="0.64" fill="rgb(39,132,33)" opacity="0.61"/>
<circle cx="152.65" cy="48.68" r="0.41" fill="rgb(17,57,14)" opacity="0.54"/>
<circle cx="166.57" cy="47.06" r="0.58" fill="rgb(16,55,13)" opacity="0.54"/>
<circle cx="157.66" cy="33.79" r="0.58" fill="rgb(29,97,24)" opacity="0.64"/>
<circle cx="111.05" cy="51.96" r="0.7" fill="rgb(15,51,12)" opacity="0.38"/>
<circle cx="164.8" cy="33.61" r="0.57" fill="rgb(16,54,13)" opacity="0.32"/>
<circle cx="134.17" cy="32.66" r="0.43" fill="rgb(17,57,14)" opacity="0.31"/>
<circle cx="117.66" cy="32.3" r="0.62" fill="rgb(31,105,26)" opacity="0.36"/>
<circle cx="160.34" cy="51.3" r="0.61" fill="rgb(39,130,32)" opacity="0.7"/>
<circle cx="157.29" cy="49.65" r="0.69" fill="rgb(102,121,99)" opacity="0.47"/>
<circle cx="158.9" cy="41.95" r="0.76" fill="rgb(91,108,88)" opacity="0.61"/>
<circle cx="149.04" cy="51.72" r="0.7" fill="rgb(31,104,26)" opacity="0.76"/>
<circle cx="141.16" cy="38.84" r="0.58" fill="rgb(33,113,28)" opacity="0.7"/>
<circle cx="139.11" cy="34.7" r="0.46" fill="rgb(35,119,29)" opacity="0.67"/>
<circle cx="140.3" cy="37.37" r="0.66" fill="rgb(115,136,111)" opacity="0.49"/>
<path d="M97 10 C97.83 12 99.77 17 102 22 C104.23 27 107.9 34.5 110.4 40 C112.9 45.5 114.73 50.12 117 55 C119.27 59.88 122.83 66.92 124 69.3 L136 68 L157 63.2 L165.5 49.7 " stroke="#8c8c8c" stroke-width="0.7" fill="none"/>
<path d="M165.5 49.7 C166.12 47.25 168.03 40.28 169.2 35 C170.37 29.72 171.3 23.33 172.5 18 C173.7 12.67 175.75 5.5 176.4 3" stroke="#8c8c8c" stroke-width="0.7" fill="none"/>
<circle cx="138" cy="45.5" r="1.4" stroke="#3c3" stroke-width="0.6" fill="none"/>
</g>
<text x="94.8" y="11.6" font-size="9.6" fill="#fff" font-family="Liberation Sans">b</text>
<text x="92.8" y="70.6" font-size="6.7" fill="#f0f0f0" font-family="Liberation Sans" textLength="34.65" lengthAdjust="spacingAndGlyphs">Day 2 T9 VG</text>
<clipPath id="cc"><rect x="181" y="3" width="87.5" height="68.5"/></clipPath>
<rect x="181" y="3" width="87.5" height="68.5" fill="#000"/>
<g clip-path="url(#cc)">
<rect x="181" y="3" width="87.5" height="68.5" filter="url(#nzc)" mask="url(#mc)"/>
<g filter="url(#bl)">
<circle cx="230.62" cy="41.35" r="1.2" fill="rgb(49,165,41)" opacity="0.96"/>
<circle cx="227.48" cy="36.31" r="1.29" fill="rgb(62,208,52)" opacity="0.8"/>
<circle cx="240.37" cy="34.09" r="0.91" fill="rgb(64,216,54)" opacity="0.79"/>
<circle cx="208.82" cy="34.81" r="0.78" fill="rgb(62,207,51)" opacity="0.9"/>
<circle cx="251.07" cy="24.46" r="0.93" fill="rgb(68,227,56)" opacity="0.74"/>
<circle cx="187.68" cy="58.04" r="0.91" fill="rgb(47,157,39)" opacity="0.72"/>
<circle cx="213.55" cy="42.37" r="1.17" fill="rgb(165,195,159)" opacity="0.7"/>
<circle cx="226.81" cy="25.61" r="0.97" fill="rgb(45,153,38)" opacity="0.96"/>
<circle cx="213.44" cy="41.12" r="1.13" fill="rgb(123,145,118)" opacity="0.73"/>
<circle cx="250.48" cy="11.15" r="0.98" fill="rgb(147,174,142)" opacity="0.76"/>
<circle cx="237.59" cy="32.97" r="1.01" fill="rgb(52,175,43)" opacity="0.84"/>
<circle cx="254.89" cy="34.33" r="0.76" fill="rgb(53,178,44)" opacity="0.93"/>
<circle cx="192.27" cy="52.89" r="0.76" fill="rgb(59,199,49)" opacity="0.92"/>
<circle cx="255.86" cy="51.5" r="1.22" fill="rgb(57,193,48)" opacity="0.85"/>
<circle cx="240.68" cy="53.51" r="1.26" fill="rgb(49,166,41)" opacity="0.83"/>
<circle cx="225.33" cy="23.51" r="1.23" fill="rgb(67,226,56)" opacity="0.71"/>
<circle cx="216.16" cy="49.55" r="0.93" fill="rgb(42,143,35)" opacity="0.97"/>
<circle cx="209.7" cy="56.71" r="1.25" fill="rgb(45,152,38)" opacity="0.99"/>
<circle cx="252.41" cy="31.83" r="1.2" fill="rgb(63,212,53)" opacity="0.93"/>
<circle cx="231.98" cy="35.55" r="1.22" fill="rgb(63,210,52)" opacity="0.7"/>
<circle cx="223.13" cy="49.26" r="1.22" fill="rgb(42,140,35)" opacity="0.76"/>
<circle cx="198.75" cy="56.6" r="0.79" fill="rgb(65,217,54)" opacity="0.87"/>
<circle cx="266.13" cy="43.63" r="0.75" fill="rgb(44,149,37)" opacity="0.97"/>
<circle cx="250.95" cy="17.63" r="0.77" fill="rgb(39,132,33)" opacity="0.76"/>
<circle cx="229.47" cy="43.44" r="0.93" fill="rgb(42,141,35)" opacity="0.92"/>
<circle cx="255.4" cy="57.47" r="1.17" fill="rgb(39,132,33)" opacity="0.85"/>
<circle cx="207.26" cy="26.79" r="1.04" fill="rgb(66,222,55)" opacity="0.8"/>
<circle cx="224.39" cy="32.59" r="0.86" fill="rgb(42,140,35)" opacity="0.95"/>
<circle cx="204.57" cy="19.33" r="1.04" fill="rgb(44,147,36)" opacity="0.86"/>
<circle cx="221.42" cy="41.68" r="0.88" fill="rgb(112,132,108)" opacity="0.74"/>
<circle cx="198.54" cy="46.33" r="0.88" fill="rgb(62,208,52)" opacity="0.7"/>
<circle cx="220.5" cy="29.38" r="0.91" fill="rgb(188,222,182)" opacity="0.93"/>
<circle cx="206.88" cy="29.9" r="0.76" fill="rgb(119,140,114)" opacity="0.99"/>
<circle cx="236.86" cy="56.91" r="0.93" fill="rgb(151,178,145)" opacity="0.77"/>
<circle cx="249.35" cy="35.77" r="1.18" fill="rgb(53,179,44)" opacity="0.93"/>
<circle cx="253.61" cy="34.9" r="1.18" fill="rgb(55,185,46)" opacity="0.91"/>
<circle cx="206.53" cy="29.46" r="0.92" fill="rgb(157,185,151)" opacity="0.9"/>
<circle cx="262.4" cy="49.46" r="0.99" fill="rgb(54,181,45)" opacity="0.81"/>
<circle cx="219.81" cy="24.43" r="1.2" fill="rgb(121,143,117)" opacity="0.82"/>
<circle cx="222.8" cy="19.41" r="0.98" fill="rgb(192,227,186)" opacity="0.94"/>
<circle cx="262.05" cy="30.88" r="0.83" fill="rgb(60,202,50)" opacity="0.94"/>
<circle cx="216.24" cy="15.51" r="1.06" fill="rgb(55,186,46)" opacity="0.88"/>
<circle cx="249.01" cy="58.73" r="1.02" fill="rgb(58,194,48)" opacity="0.75"/>
<circle cx="264.88" cy="31.77" r="1.08" fill="rgb(183,216,177)" opacity="0.78"/>
<circle cx="208.43" cy="52.21" r="0.92" fill="rgb(39,131,32)" opacity="0.96"/>
<circle cx="250.16" cy="20.35" r="1" fill="rgb(136,161,132)" opacity="0.83"/>
<circle cx="224.86" cy="28.58" r="1.13" fill="rgb(131,155,127)" opacity="0.79"/>
<circle cx="228.69" cy="24.46" r="1.2" fill="rgb(63,213,53)" opacity="0.99"/>
<circle cx="232.27" cy="50.47" r="0.89" fill="rgb(113,133,109)" opacity="0.73"/>
<circle cx="248.85" cy="54.22" r="0.77" fill="rgb(187,221,181)" opacity="0.95"/>
<circle cx="226.25" cy="26.38" r="0.81" fill="rgb(58,195,48)" opacity="0.94"/>
<circle cx="212.3" cy="57.14" r="1.08" fill="rgb(59,198,49)" opacity="0.92"/>
<circle cx="238.99" cy="23.44" r="1.29" fill="rgb(42,140,35)" opacity="0.88"/>
<circle cx="243.24" cy="29.61" r="0.83" fill="rgb(143,169,138)" opacity="0.75"/>
<circle cx="250.63" cy="28.88" r="0.92" fill="rgb(141,167,136)" opacity="0.9"/>
<circle cx="183.09" cy="18.6" r="1.27" fill="rgb(54,183,45)" opacity="0.88"/>
<circle cx="209.7" cy="52.64" r="1.26" fill="rgb(181,214,175)" opacity="0.77"/>
<circle cx="263.61" cy="52.66" r="1.08" fill="rgb(55,185,46)" opacity="0.76"/>
<circle cx="236.38" cy="47.47" r="0.76" fill="rgb(63,210,52)" opacity="0.75"/>
<circle cx="228.86" cy="24.33" r="1.09" fill="rgb(57,190,47)" opacity="0.8"/>
<circle cx="261.54" cy="19.34" r="1.12" fill="rgb(119,140,114)" opacity="0.72"/>
<circle cx="185.37" cy="19.23" r="0.83" fill="rgb(64,215,53)" opacity="0.89"/>
<circle cx="237.14" cy="40.34" r="1.14" fill="rgb(67,225,56)" opacity="0.97"/>
<circle cx="232.49" cy="37.74" r="0.99" fill="rgb(39,133,33)" opacity="0.81"/>
<circle cx="252.19" cy="53.2" r="1.24" fill="rgb(44,149,37)" opacity="0.85"/>
<circle cx="207.09" cy="41.68" r="1.24" fill="rgb(52,175,43)" opacity="0.86"/>
<circle cx="237.13" cy="18.07" r="1.06" fill="rgb(132,156,127)" opacity="0.87"/>
<circle cx="252.48" cy="22.89" r="1.19" fill="rgb(114,135,110)" opacity="0.77"/>
<circle cx="216.26" cy="33" r="0.79" fill="rgb(61,205,51)" opacity="0.81"/>
<circle cx="226.49" cy="11.1" r="0.86" fill="rgb(147,174,142)" opacity="0.78"/>
<circle cx="247.56" cy="16.18" r="0.82" fill="rgb(52,176,44)" opacity="0.93"/>
<circle cx="242.7" cy="50.21" r="1.06" fill="rgb(62,208,52)" opacity="0.71"/>
<circle cx="228.77" cy="27.31" r="1.22" fill="rgb(53,178,44)" opacity="0.77"/>
<circle cx="192.5" cy="27.07" r="0.84" fill="rgb(39,132,33)" opacity="0.79"/>
<circle cx="204.65" cy="45.59" r="1.22" fill="rgb(60,202,50)" opacity="0.98"/>
<circle cx="264.68" cy="30.09" r="1.18" fill="rgb(57,193,48)" opacity="0.76"/>
<circle cx="264.59" cy="39.58" r="1.22" fill="rgb(59,197,49)" opacity="0.81"/>
<circle cx="241.66" cy="50.28" r="1.26" fill="rgb(45,152,38)" opacity="0.8"/>
<circle cx="214.56" cy="40.7" r="0.82" fill="rgb(50,169,42)" opacity="0.93"/>
<circle cx="258.55" cy="47.15" r="1.25" fill="rgb(174,205,168)" opacity="0.94"/>
<circle cx="262" cy="21.74" r="1.13" fill="rgb(42,140,35)" opacity="0.86"/>
<circle cx="254.3" cy="35.78" r="1.03" fill="rgb(49,165,41)" opacity="0.93"/>
<circle cx="256.04" cy="39" r="0.87" fill="rgb(45,150,37)" opacity="0.71"/>
<circle cx="261.66" cy="29.9" r="1.08" fill="rgb(52,174,43)" opacity="0.76"/>
<circle cx="218.63" cy="55.03" r="1.24" fill="rgb(39,130,32)" opacity="0.99"/>
</g>
<g filter="url(#bl)" stroke="#2a7a2a" stroke-width="1.1" fill="none" opacity="0.4"><path d="M195 48 C201 41 209 33 217 25"/><path d="M203 55 C211 49 219 43 225 36"/><path d="M245 27 C248 33 247 41 241 47"/><path d="M229 31 q6 2 10 7"/><path d="M191 21 q8 -3 14 -6"/></g>
<path d="M190.2 7.3 C191.67 7 195.43 6.22 199 5.5 C202.57 4.78 209.5 3.42 211.6 3" stroke="#8c8c8c" stroke-width="0.7" fill="none"/>
<path d="M225 4.2 C227.05 4.5 233.22 4.87 237.3 6 C241.38 7.13 244.22 9.45 249.5 11 C254.78 12.55 265.75 14.58 269 15.3" stroke="#8c8c8c" stroke-width="0.7" fill="none"/>
<path d="M214 72 C214.42 71.15 214.67 69.07 216.5 66.9 C218.33 64.73 220.92 61.05 225 59 C229.08 56.95 235.5 54.82 241 54.6 C246.5 54.38 253.33 56.8 258 57.7 C262.67 58.6 267.17 59.62 269 60" stroke="#8c8c8c" stroke-width="0.7" fill="none"/>
<path d="M247.5 73 L255.6 63.8" stroke="#36d636" stroke-width="2.8" stroke-linecap="round"/>
<circle cx="261" cy="60.5" r="1" fill="#5a9a5a"/>
</g>
<text x="183.8" y="11.6" font-size="9.6" fill="#fff" font-family="Liberation Sans">c</text>
<text x="181.8" y="70.6" font-size="6.7" fill="#f0f0f0" font-family="Liberation Sans" textLength="34.65" lengthAdjust="spacingAndGlyphs">Sham T10 DG</text>
<clipPath id="cd"><rect x="270.5" y="3" width="87.5" height="68.5"/></clipPath>
<rect x="270.5" y="3" width="87.5" height="68.5" fill="#000"/>
<g clip-path="url(#cd)">
<rect x="270.5" y="3" width="87.5" height="68.5" filter="url(#nzc)" mask="url(#md)"/>
<g filter="url(#bl)">
<circle cx="317.26" cy="16.55" r="1.13" fill="rgb(39,132,33)" opacity="0.72"/>
<circle cx="305.22" cy="17.22" r="0.75" fill="rgb(62,209,52)" opacity="1"/>
<circle cx="335.92" cy="12.46" r="0.9" fill="rgb(59,198,49)" opacity="0.74"/>
<circle cx="312.69" cy="10.07" r="0.78" fill="rgb(148,175,143)" opacity="0.64"/>
<circle cx="353.31" cy="5.69" r="1.01" fill="rgb(124,147,120)" opacity="0.75"/>
<circle cx="321.76" cy="25.92" r="0.79" fill="rgb(42,143,35)" opacity="0.91"/>
<circle cx="293.35" cy="27.01" r="1.04" fill="rgb(170,200,164)" opacity="0.89"/>
<circle cx="338.78" cy="19.34" r="0.86" fill="rgb(64,216,54)" opacity="0.78"/>
<circle cx="343.03" cy="6.76" r="0.94" fill="rgb(63,211,52)" opacity="1"/>
<circle cx="330.86" cy="27.33" r="1.07" fill="rgb(123,145,118)" opacity="0.69"/>
<circle cx="291.46" cy="21.84" r="1.02" fill="rgb(53,179,44)" opacity="0.98"/>
<circle cx="327.41" cy="13.11" r="0.88" fill="rgb(37,124,31)" opacity="0.84"/>
<circle cx="294.38" cy="13.83" r="0.72" fill="rgb(56,189,47)" opacity="0.66"/>
<circle cx="351.58" cy="21.38" r="0.7" fill="rgb(57,193,48)" opacity="0.86"/>
<circle cx="308.32" cy="3.17" r="0.84" fill="rgb(59,198,49)" opacity="0.87"/>
<circle cx="346.7" cy="27.48" r="0.73" fill="rgb(51,171,42)" opacity="0.71"/>
<circle cx="294.75" cy="15.81" r="1.13" fill="rgb(55,186,46)" opacity="0.92"/>
<circle cx="294.78" cy="15.28" r="0.9" fill="rgb(44,148,37)" opacity="0.98"/>
<circle cx="295.27" cy="9.3" r="1.17" fill="rgb(164,194,159)" opacity="0.97"/>
<circle cx="316.43" cy="11.63" r="0.92" fill="rgb(43,145,36)" opacity="0.91"/>
<circle cx="308.75" cy="16.34" r="1.11" fill="rgb(119,141,115)" opacity="0.69"/>
<circle cx="322.45" cy="15.61" r="1.13" fill="rgb(168,198,162)" opacity="0.98"/>
<circle cx="306.88" cy="8.79" r="1" fill="rgb(150,177,145)" opacity="0.99"/>
<circle cx="350.32" cy="6.64" r="0.7" fill="rgb(48,161,40)" opacity="0.87"/>
<circle cx="343.08" cy="12.55" r="1.18" fill="rgb(61,205,51)" opacity="0.8"/>
<circle cx="304.89" cy="6.91" r="0.77" fill="rgb(33,110,27)" opacity="0.61"/>
<circle cx="336.17" cy="18.2" r="0.78" fill="rgb(152,179,146)" opacity="0.65"/>
<circle cx="316.14" cy="15.54" r="1.02" fill="rgb(44,149,37)" opacity="0.71"/>
<circle cx="343.73" cy="7.04" r="1.01" fill="rgb(35,118,29)" opacity="0.84"/>
<circle cx="311.38" cy="19.32" r="1.11" fill="rgb(95,112,91)" opacity="0.68"/>
<circle cx="303.26" cy="7.15" r="0.79" fill="rgb(37,124,31)" opacity="0.97"/>
<circle cx="300.83" cy="13.72" r="1.17" fill="rgb(47,158,39)" opacity="0.7"/>
<circle cx="308.49" cy="6.73" r="0.83" fill="rgb(48,161,40)" opacity="0.67"/>
<circle cx="352.58" cy="15" r="0.84" fill="rgb(51,172,43)" opacity="0.92"/>
<circle cx="335.61" cy="24.95" r="0.95" fill="rgb(47,158,39)" opacity="0.64"/>
<circle cx="335.71" cy="17.59" r="0.83" fill="rgb(41,138,34)" opacity="0.86"/>
<circle cx="301.91" cy="4.04" r="0.81" fill="rgb(49,164,41)" opacity="1"/>
<circle cx="325.8" cy="20.55" r="0.75" fill="rgb(41,139,34)" opacity="0.72"/>
<circle cx="301.82" cy="18.95" r="1.03" fill="rgb(45,151,37)" opacity="0.85"/>
<circle cx="351.11" cy="14.09" r="1.17" fill="rgb(54,183,45)" opacity="0.72"/>
<circle cx="333.23" cy="21.95" r="0.87" fill="rgb(165,195,159)" opacity="0.74"/>
<circle cx="294.41" cy="19.76" r="0.72" fill="rgb(168,198,162)" opacity="0.75"/>
<circle cx="301.12" cy="9.47" r="1.15" fill="rgb(150,177,145)" opacity="0.63"/>
<circle cx="342.76" cy="4.36" r="0.98" fill="rgb(60,201,50)" opacity="0.93"/>
<circle cx="323" cy="26.6" r="0.87" fill="rgb(41,139,34)" opacity="0.88"/>
<circle cx="322.42" cy="4.11" r="0.9" fill="rgb(64,216,54)" opacity="0.86"/>
<circle cx="297.9" cy="22.91" r="1.09" fill="rgb(57,190,47)" opacity="0.82"/>
<circle cx="327.08" cy="4.34" r="0.94" fill="rgb(64,215,53)" opacity="0.87"/>
<circle cx="351.13" cy="27.58" r="0.97" fill="rgb(37,124,31)" opacity="0.91"/>
<circle cx="299.25" cy="5.39" r="1.14" fill="rgb(123,145,118)" opacity="0.92"/>
<circle cx="325.59" cy="5.14" r="0.96" fill="rgb(59,199,49)" opacity="0.73"/>
<circle cx="318.11" cy="20.51" r="0.92" fill="rgb(107,127,104)" opacity="0.7"/>
<circle cx="303.11" cy="17.22" r="0.91" fill="rgb(48,163,40)" opacity="0.95"/>
<circle cx="316.09" cy="14.71" r="0.98" fill="rgb(42,143,35)" opacity="0.66"/>
<circle cx="293.25" cy="22.06" r="1.06" fill="rgb(164,194,159)" opacity="0.71"/>
<circle cx="306.34" cy="22.15" r="0.98" fill="rgb(53,177,44)" opacity="0.78"/>
<circle cx="330.77" cy="27.69" r="0.94" fill="rgb(42,140,35)" opacity="0.95"/>
<circle cx="305.35" cy="6.94" r="0.7" fill="rgb(151,178,145)" opacity="0.99"/>
<circle cx="327.11" cy="22.46" r="0.82" fill="rgb(184,217,177)" opacity="0.81"/>
<circle cx="303.74" cy="27.57" r="0.85" fill="rgb(128,151,123)" opacity="0.96"/>
<circle cx="306.74" cy="68.17" r="0.87" fill="rgb(39,131,32)" opacity="0.52"/>
<circle cx="304.76" cy="70.7" r="0.99" fill="rgb(45,150,37)" opacity="0.51"/>
<circle cx="313.75" cy="55.62" r="0.92" fill="rgb(42,143,35)" opacity="0.98"/>
<circle cx="286.33" cy="34.89" r="0.85" fill="rgb(48,162,40)" opacity="0.52"/>
<circle cx="304.13" cy="30.97" r="0.76" fill="rgb(48,162,40)" opacity="0.51"/>
<circle cx="292.72" cy="59.42" r="0.91" fill="rgb(33,112,28)" opacity="0.65"/>
<circle cx="287.8" cy="35.74" r="0.82" fill="rgb(113,134,109)" opacity="0.76"/>
<circle cx="344.32" cy="28.68" r="1.07" fill="rgb(89,105,86)" opacity="0.82"/>
<circle cx="312.25" cy="61.71" r="0.94" fill="rgb(31,104,26)" opacity="0.9"/>
<circle cx="312.92" cy="61.77" r="0.68" fill="rgb(51,173,43)" opacity="0.65"/>
<circle cx="312.96" cy="53.09" r="0.72" fill="rgb(113,134,109)" opacity="0.85"/>
<circle cx="353.18" cy="32.33" r="1.04" fill="rgb(30,102,25)" opacity="0.83"/>
<circle cx="332.94" cy="68.47" r="0.66" fill="rgb(73,86,70)" opacity="0.54"/>
<circle cx="334.47" cy="29.98" r="0.66" fill="rgb(33,112,28)" opacity="0.69"/>
<circle cx="349.95" cy="59.04" r="0.7" fill="rgb(135,159,130)" opacity="0.87"/>
<circle cx="302.29" cy="66.33" r="0.62" fill="rgb(28,95,23)" opacity="0.73"/>
<circle cx="323.38" cy="59.8" r="0.97" fill="rgb(37,126,31)" opacity="0.93"/>
<circle cx="342.76" cy="68.9" r="0.64" fill="rgb(71,84,68)" opacity="0.62"/>
<circle cx="304.51" cy="43.96" r="0.78" fill="rgb(53,179,44)" opacity="0.92"/>
<circle cx="305.78" cy="60.71" r="0.68" fill="rgb(131,155,127)" opacity="0.57"/>
<circle cx="349.3" cy="59.68" r="0.7" fill="rgb(45,151,37)" opacity="0.83"/>
<circle cx="331.9" cy="46.81" r="0.89" fill="rgb(40,135,33)" opacity="0.7"/>
<circle cx="338.21" cy="63.3" r="1.02" fill="rgb(49,165,41)" opacity="0.96"/>
<circle cx="288.53" cy="69.98" r="0.64" fill="rgb(85,100,82)" opacity="0.54"/>
<circle cx="340.54" cy="57.01" r="0.61" fill="rgb(25,85,21)" opacity="0.98"/>
<circle cx="346.49" cy="54.24" r="0.92" fill="rgb(48,162,40)" opacity="0.99"/>
<circle cx="295.64" cy="40.53" r="0.81" fill="rgb(74,88,72)" opacity="0.86"/>
<circle cx="329.67" cy="41.53" r="0.97" fill="rgb(27,90,22)" opacity="0.57"/>
<circle cx="292.79" cy="64.04" r="0.81" fill="rgb(25,84,21)" opacity="0.86"/>
<circle cx="345.57" cy="55.01" r="0.92" fill="rgb(94,111,91)" opacity="0.64"/>
<circle cx="334.73" cy="60.61" r="1" fill="rgb(33,110,27)" opacity="0.66"/>
<circle cx="339.92" cy="30.57" r="0.73" fill="rgb(30,103,25)" opacity="0.86"/>
<circle cx="349.58" cy="54.8" r="0.67" fill="rgb(94,111,91)" opacity="0.51"/>
<circle cx="306.52" cy="44.24" r="1.08" fill="rgb(52,174,43)" opacity="0.71"/>
<circle cx="316.01" cy="51.62" r="0.91" fill="rgb(38,129,32)" opacity="0.97"/>
<circle cx="342.99" cy="45.81" r="1.08" fill="rgb(26,87,21)" opacity="0.7"/>
<circle cx="330.15" cy="60.57" r="1" fill="rgb(39,132,33)" opacity="0.62"/>
<circle cx="333.67" cy="59.2" r="0.94" fill="rgb(30,100,25)" opacity="0.9"/>
<circle cx="349.47" cy="63.97" r="1" fill="rgb(86,102,83)" opacity="0.76"/>
<circle cx="338.51" cy="58.36" r="1.09" fill="rgb(25,85,21)" opacity="0.93"/>
<circle cx="349.81" cy="50.23" r="1.02" fill="rgb(45,152,38)" opacity="0.69"/>
<circle cx="285.6" cy="43.65" r="0.71" fill="rgb(136,161,132)" opacity="0.85"/>
<circle cx="328.32" cy="64.78" r="0.69" fill="rgb(36,123,30)" opacity="0.74"/>
<circle cx="291.91" cy="57.94" r="0.64" fill="rgb(50,169,42)" opacity="0.69"/>
<circle cx="349.25" cy="44.4" r="1.01" fill="rgb(99,117,95)" opacity="0.61"/>
<circle cx="310.96" cy="61.13" r="0.81" fill="rgb(37,126,31)" opacity="0.55"/>
<circle cx="317.96" cy="64.75" r="1.09" fill="rgb(41,138,34)" opacity="0.86"/>
<circle cx="333.02" cy="52.07" r="0.86" fill="rgb(136,161,132)" opacity="0.51"/>
<circle cx="314.71" cy="30.02" r="0.92" fill="rgb(52,175,43)" opacity="0.88"/>
<circle cx="349.69" cy="55.92" r="0.7" fill="rgb(41,139,34)" opacity="0.58"/>
<circle cx="284.14" cy="71.3" r="0.63" fill="rgb(30,103,25)" opacity="0.58"/>
<circle cx="278.15" cy="23.01" r="0.56" fill="rgb(34,116,29)" opacity="0.62"/>
<circle cx="272.18" cy="46.99" r="0.53" fill="rgb(68,81,66)" opacity="0.65"/>
<circle cx="281.22" cy="14.87" r="0.85" fill="rgb(63,75,61)" opacity="0.7"/>
<circle cx="275.89" cy="48.86" r="0.72" fill="rgb(97,115,94)" opacity="0.79"/>
<circle cx="284.32" cy="48.39" r="0.52" fill="rgb(61,72,59)" opacity="0.46"/>
<circle cx="290.42" cy="41.35" r="0.82" fill="rgb(85,100,82)" opacity="0.63"/>
<circle cx="274.37" cy="47.94" r="0.51" fill="rgb(101,119,97)" opacity="0.76"/>
<circle cx="276.44" cy="52.29" r="0.71" fill="rgb(79,93,76)" opacity="0.41"/>
<circle cx="272.83" cy="31.77" r="0.51" fill="rgb(64,76,62)" opacity="0.71"/>
<circle cx="282.77" cy="36.23" r="0.71" fill="rgb(70,83,68)" opacity="0.71"/>
<circle cx="282" cy="59.31" r="0.71" fill="rgb(83,98,80)" opacity="0.71"/>
<circle cx="280.31" cy="63.24" r="0.66" fill="rgb(60,71,58)" opacity="0.71"/>
<circle cx="290.1" cy="3.47" r="0.73" fill="rgb(34,115,28)" opacity="0.64"/>
<circle cx="277.05" cy="50.24" r="0.56" fill="rgb(30,102,25)" opacity="0.52"/>
</g>
<path d="M303.7 3 C302 6.17 296.67 16.67 293.5 22 C290.33 27.33 287.37 30.58 284.7 35 C282.03 39.42 279.23 43.8 277.5 48.5 C275.77 53.2 275.05 59.12 274.3 63.2 C273.55 67.28 273.22 71.37 273 73" stroke="#8c8c8c" stroke-width="0.7" fill="none"/>
<path d="M327.5 73 C328.92 70.75 333.15 63.38 336 59.5 C338.85 55.62 342.13 52.25 344.6 49.7 C347.07 47.15 348.48 46.23 350.8 44.2 C353.12 42.17 357.22 38.62 358.5 37.5" stroke="#8c8c8c" stroke-width="0.7" fill="none"/>
<path d="M333.5 44.5 L337.9 54.6" stroke="#3cc83c" stroke-width="1.4" stroke-linecap="round"/>
<path d="M306.5 23 q2 -2 3 1 q-1 3 -3 1 M323.5 28 l2 5" stroke="#3fbf3f" stroke-width="0.8" fill="none"/>
<circle cx="309.5" cy="25" r="1" fill="#3aaa3a"/>
<circle cx="322.5" cy="22" r="1" fill="#3aaa3a"/>
<circle cx="327.5" cy="29" r="1" fill="#3aaa3a"/>
<circle cx="317.5" cy="34" r="1" fill="#3aaa3a"/>
<circle cx="321.5" cy="39" r="1" fill="#3aaa3a"/>
<circle cx="298.5" cy="41" r="1" fill="#3aaa3a"/>
<circle cx="276.5" cy="13" r="1" fill="#3aaa3a"/>
<circle cx="288.5" cy="39" r="1" fill="#3aaa3a"/>
<rect x="346.5" y="67.6" width="8.5" height="1.1" fill="#d8d8d8"/>
<rect x="348" y="65.4" width="5.5" height="1" fill="#999"/>
</g>
<text x="273.3" y="11.6" font-size="9.6" fill="#fff" font-family="Liberation Sans">d</text>
<text x="271.3" y="70.6" font-size="6.7" fill="#f0f0f0" font-family="Liberation Sans" textLength="40.95" lengthAdjust="spacingAndGlyphs">Day 45 T10 DG</text>
<text x="6" y="90" font-size="11.5" font-weight="bold" font-family="Liberation Serif" fill="#1a1a1a">e</text>
<text transform="translate(7.3 161.3) rotate(-90)" font-size="6.9" font-weight="bold" font-family="Liberation Sans" text-anchor="middle" fill="#111" textLength="94.5" lengthAdjust="spacingAndGlyphs">Number of vessels (per mm²)</text>
<line x1="21.6" y1="213.5" x2="25.5" y2="213.5" stroke="#1a1a1a" stroke-width="1"/>
<text x="20.8" y="215.7" font-size="6.7" font-weight="bold" font-family="Liberation Sans" text-anchor="end" fill="#000" stroke="#000" stroke-width="0.22" textLength="3.15" lengthAdjust="spacingAndGlyphs">0</text>
<line x1="21.6" y1="187.12" x2="25.5" y2="187.12" stroke="#1a1a1a" stroke-width="1"/>
<text x="20.8" y="189.32" font-size="6.7" font-weight="bold" font-family="Liberation Sans" text-anchor="end" fill="#000" stroke="#000" stroke-width="0.22" textLength="9.45" lengthAdjust="spacingAndGlyphs">200</text>
<line x1="21.6" y1="160.75" x2="25.5" y2="160.75" stroke="#1a1a1a" stroke-width="1"/>
<text x="20.8" y="162.95" font-size="6.7" font-weight="bold" font-family="Liberation Sans" text-anchor="end" fill="#000" stroke="#000" stroke-width="0.22" textLength="9.45" lengthAdjust="spacingAndGlyphs">400</text>
<line x1="21.6" y1="134.38" x2="25.5" y2="134.38" stroke="#1a1a1a" stroke-width="1"/>
<text x="20.8" y="136.57" font-size="6.7" font-weight="bold" font-family="Liberation Sans" text-anchor="end" fill="#000" stroke="#000" stroke-width="0.22" textLength="9.45" lengthAdjust="spacingAndGlyphs">600</text>
<line x1="21.6" y1="108" x2="25.5" y2="108" stroke="#1a1a1a" stroke-width="1"/>
<text x="20.8" y="110.2" font-size="6.7" font-weight="bold" font-family="Liberation Sans" text-anchor="end" fill="#000" stroke="#000" stroke-width="0.22" textLength="9.45" lengthAdjust="spacingAndGlyphs">800</text>
<line x1="29.2" y1="133" x2="29.2" y2="120.5" stroke="#9a9a9a" stroke-width="0.8"/>
<line x1="28.4" y1="120.5" x2="30" y2="120.5" stroke="#555" stroke-width="0.5"/>
<rect x="27.65" y="133" width="3.1" height="80.5" fill="#5f5f5f" stroke="#454545" stroke-width="0.4"/>
<circle cx="28.92" cy="120.5" r="0.95" fill="#111"/>
<circle cx="28.98" cy="140.5" r="0.95" fill="#111"/>
<circle cx="28.82" cy="128" r="0.95" fill="#111"/>
<circle cx="29.13" cy="148" r="0.95" fill="#111"/>
<line x1="33.75" y1="132.8" x2="33.75" y2="117.2" stroke="#9a9a9a" stroke-width="0.8"/>
<line x1="32.95" y1="117.2" x2="34.55" y2="117.2" stroke="#555" stroke-width="0.5"/>
<rect x="32.2" y="132.8" width="3.1" height="80.7" fill="#4b0e85" stroke="#36086a" stroke-width="0.4"/>
<circle cx="33.76" cy="117.2" r="0.95" fill="#111"/>
<circle cx="33.6" cy="142.16" r="0.95" fill="#111"/>
<circle cx="33.63" cy="126.56" r="0.95" fill="#111"/>
<circle cx="33.77" cy="151.52" r="0.95" fill="#111"/>
<line x1="38.3" y1="133.3" x2="38.3" y2="122.5" stroke="#9a9a9a" stroke-width="0.8"/>
<line x1="37.5" y1="122.5" x2="39.1" y2="122.5" stroke="#555" stroke-width="0.5"/>
<rect x="36.75" y="133.3" width="3.1" height="80.2" fill="#8c2669" stroke="#6c1b52" stroke-width="0.4"/>
<circle cx="38.07" cy="122.5" r="0.95" fill="#111"/>
<circle cx="38.17" cy="139.78" r="0.95" fill="#111"/>
<circle cx="38.34" cy="128.98" r="0.95" fill="#111"/>
<circle cx="38.27" cy="146.26" r="0.95" fill="#111"/>
<line x1="42.85" y1="133.2" x2="42.85" y2="118.2" stroke="#9a9a9a" stroke-width="0.8"/>
<line x1="42.05" y1="118.2" x2="43.65" y2="118.2" stroke="#555" stroke-width="0.5"/>
<rect x="41.3" y="133.2" width="3.1" height="80.3" fill="#d8493c" stroke="#b5392e" stroke-width="0.4"/>
<circle cx="43.09" cy="118.2" r="0.95" fill="#111"/>
<circle cx="43.09" cy="142.2" r="0.95" fill="#111"/>
<circle cx="42.99" cy="127.2" r="0.95" fill="#111"/>
<circle cx="42.91" cy="151.2" r="0.95" fill="#111"/>
<line x1="47.4" y1="135" x2="47.4" y2="117.8" stroke="#9a9a9a" stroke-width="0.8"/>
<line x1="46.6" y1="117.8" x2="48.2" y2="117.8" stroke="#555" stroke-width="0.5"/>
<rect x="45.85" y="135" width="3.1" height="78.5" fill="#e7a633" stroke="#c58925" stroke-width="0.4"/>
<circle cx="47.24" cy="117.8" r="0.95" fill="#111"/>
<circle cx="47.61" cy="145.32" r="0.95" fill="#111"/>
<circle cx="47.59" cy="128.12" r="0.95" fill="#111"/>
<circle cx="47.25" cy="155.64" r="0.95" fill="#111"/>
<line x1="55.03" y1="129.5" x2="55.03" y2="117.5" stroke="#9a9a9a" stroke-width="0.8"/>
<line x1="54.23" y1="117.5" x2="55.83" y2="117.5" stroke="#555" stroke-width="0.5"/>
<rect x="53.48" y="129.5" width="3.1" height="84" fill="#5f5f5f" stroke="#454545" stroke-width="0.4"/>
<circle cx="54.8" cy="117.5" r="0.95" fill="#111"/>
<circle cx="54.99" cy="136.7" r="0.95" fill="#111"/>
<circle cx="54.9" cy="124.7" r="0.95" fill="#111"/>
<circle cx="54.91" cy="143.9" r="0.95" fill="#111"/>
<line x1="59.58" y1="127" x2="59.58" y2="119" stroke="#9a9a9a" stroke-width="0.8"/>
<line x1="58.78" y1="119" x2="60.38" y2="119" stroke="#555" stroke-width="0.5"/>
<rect x="58.03" y="127" width="3.1" height="86.5" fill="#4b0e85" stroke="#36086a" stroke-width="0.4"/>
<circle cx="59.47" cy="119" r="0.95" fill="#111"/>
<circle cx="59.48" cy="131.8" r="0.95" fill="#111"/>
<circle cx="59.2" cy="123.8" r="0.95" fill="#111"/>
<circle cx="59.59" cy="136.6" r="0.95" fill="#111"/>
<line x1="64.13" y1="139.8" x2="64.13" y2="133" stroke="#9a9a9a" stroke-width="0.8"/>
<line x1="63.33" y1="133" x2="64.93" y2="133" stroke="#555" stroke-width="0.5"/>
<rect x="62.58" y="139.8" width="3.1" height="73.7" fill="#8c2669" stroke="#6c1b52" stroke-width="0.4"/>
<circle cx="64.48" cy="133" r="0.95" fill="#111"/>
<circle cx="63.81" cy="143.88" r="0.95" fill="#111"/>
<circle cx="64.29" cy="137.08" r="0.95" fill="#111"/>
<circle cx="64.27" cy="147.96" r="0.95" fill="#111"/>
<line x1="68.68" y1="141.2" x2="68.68" y2="132" stroke="#9a9a9a" stroke-width="0.8"/>
<line x1="67.88" y1="132" x2="69.48" y2="132" stroke="#555" stroke-width="0.5"/>
<rect x="67.13" y="141.2" width="3.1" height="72.3" fill="#d8493c" stroke="#b5392e" stroke-width="0.4"/>
<circle cx="69.05" cy="132" r="0.95" fill="#111"/>
<circle cx="68.48" cy="146.72" r="0.95" fill="#111"/>
<circle cx="68.77" cy="137.52" r="0.95" fill="#111"/>
<circle cx="68.34" cy="152.24" r="0.95" fill="#111"/>
<line x1="73.23" y1="138" x2="73.23" y2="125" stroke="#9a9a9a" stroke-width="0.8"/>
<line x1="72.43" y1="125" x2="74.03" y2="125" stroke="#555" stroke-width="0.5"/>
<rect x="71.68" y="138" width="3.1" height="75.5" fill="#e7a633" stroke="#c58925" stroke-width="0.4"/>
<circle cx="72.94" cy="125" r="0.95" fill="#111"/>
<circle cx="73.33" cy="145.8" r="0.95" fill="#111"/>
<circle cx="72.98" cy="132.8" r="0.95" fill="#111"/>
<circle cx="72.93" cy="153.6" r="0.95" fill="#111"/>
<line x1="80.86" y1="136" x2="80.86" y2="133" stroke="#9a9a9a" stroke-width="0.8"/>
<line x1="80.06" y1="133" x2="81.66" y2="133" stroke="#555" stroke-width="0.5"/>
<rect x="79.31" y="136" width="3.1" height="77.5" fill="#5f5f5f" stroke="#454545" stroke-width="0.4"/>
<circle cx="81.11" cy="133" r="0.95" fill="#111"/>
<circle cx="80.94" cy="137.8" r="0.95" fill="#111"/>
<circle cx="80.99" cy="134.8" r="0.95" fill="#111"/>
<circle cx="80.86" cy="139.6" r="0.95" fill="#111"/>
<line x1="85.41" y1="171.2" x2="85.41" y2="149.5" stroke="#9a9a9a" stroke-width="0.8"/>
<line x1="84.61" y1="149.5" x2="86.21" y2="149.5" stroke="#555" stroke-width="0.5"/>
<rect x="83.86" y="171.2" width="3.1" height="42.3" fill="#4b0e85" stroke="#36086a" stroke-width="0.4"/>
<circle cx="85.71" cy="149.5" r="0.95" fill="#111"/>
<circle cx="85.5" cy="184.22" r="0.95" fill="#111"/>
<circle cx="85.34" cy="162.52" r="0.95" fill="#111"/>
<circle cx="85.81" cy="197.24" r="0.95" fill="#111"/>
<line x1="89.96" y1="147.2" x2="89.96" y2="139" stroke="#9a9a9a" stroke-width="0.8"/>
<line x1="89.16" y1="139" x2="90.76" y2="139" stroke="#555" stroke-width="0.5"/>
<rect x="88.41" y="147.2" width="3.1" height="66.3" fill="#8c2669" stroke="#6c1b52" stroke-width="0.4"/>
<circle cx="90" cy="139" r="0.95" fill="#111"/>
<circle cx="89.76" cy="152.12" r="0.95" fill="#111"/>
<circle cx="89.81" cy="143.92" r="0.95" fill="#111"/>
<circle cx="90.26" cy="157.04" r="0.95" fill="#111"/>
<line x1="94.51" y1="142.7" x2="94.51" y2="129.2" stroke="#9a9a9a" stroke-width="0.8"/>
<line x1="93.71" y1="129.2" x2="95.31" y2="129.2" stroke="#555" stroke-width="0.5"/>
<rect x="92.96" y="142.7" width="3.1" height="70.8" fill="#d8493c" stroke="#b5392e" stroke-width="0.4"/>
<circle cx="94.71" cy="129.2" r="0.95" fill="#111"/>
<circle cx="94.51" cy="150.8" r="0.95" fill="#111"/>
<circle cx="94.61" cy="137.3" r="0.95" fill="#111"/>
<circle cx="94.36" cy="158.9" r="0.95" fill="#111"/>
<line x1="99.06" y1="142.7" x2="99.06" y2="136.7" stroke="#9a9a9a" stroke-width="0.8"/>
<line x1="98.26" y1="136.7" x2="99.86" y2="136.7" stroke="#555" stroke-width="0.5"/>
<rect x="97.51" y="142.7" width="3.1" height="70.8" fill="#e7a633" stroke="#c58925" stroke-width="0.4"/>
<circle cx="98.84" cy="136.7" r="0.95" fill="#111"/>
<circle cx="98.72" cy="146.3" r="0.95" fill="#111"/>
<circle cx="99.21" cy="140.3" r="0.95" fill="#111"/>
<circle cx="99.05" cy="149.9" r="0.95" fill="#111"/>
<line x1="106.69" y1="131.3" x2="106.69" y2="128" stroke="#9a9a9a" stroke-width="0.8"/>
<line x1="105.89" y1="128" x2="107.49" y2="128" stroke="#555" stroke-width="0.5"/>
<rect x="105.14" y="131.3" width="3.1" height="82.2" fill="#5f5f5f" stroke="#454545" stroke-width="0.4"/>
<circle cx="106.97" cy="128" r="0.95" fill="#111"/>
<circle cx="106.83" cy="133.28" r="0.95" fill="#111"/>
<circle cx="106.62" cy="129.98" r="0.95" fill="#111"/>
<circle cx="106.85" cy="135.26" r="0.95" fill="#111"/>
<line x1="111.24" y1="210.6" x2="111.24" y2="208" stroke="#9a9a9a" stroke-width="0.8"/>
<line x1="110.44" y1="208" x2="112.04" y2="208" stroke="#555" stroke-width="0.5"/>
<rect x="109.69" y="210.6" width="3.1" height="2.9" fill="#4b0e85" stroke="#36086a" stroke-width="0.4"/>
<circle cx="111.08" cy="208" r="0.95" fill="#111"/>
<circle cx="111.17" cy="212.16" r="0.95" fill="#111"/>
<circle cx="111.43" cy="209.56" r="0.95" fill="#111"/>
<circle cx="111.27" cy="212.5" r="0.95" fill="#111"/>
<line x1="115.79" y1="205" x2="115.79" y2="197.8" stroke="#9a9a9a" stroke-width="0.8"/>
<line x1="114.99" y1="197.8" x2="116.59" y2="197.8" stroke="#555" stroke-width="0.5"/>
<rect x="114.24" y="205" width="3.1" height="8.5" fill="#8c2669" stroke="#6c1b52" stroke-width="0.4"/>
<circle cx="115.43" cy="197.8" r="0.95" fill="#111"/>
<circle cx="115.47" cy="209.32" r="0.95" fill="#111"/>
<circle cx="116.03" cy="202.12" r="0.95" fill="#111"/>
<circle cx="115.89" cy="212.5" r="0.95" fill="#111"/>
<line x1="120.34" y1="206.3" x2="120.34" y2="198" stroke="#9a9a9a" stroke-width="0.8"/>
<line x1="119.54" y1="198" x2="121.14" y2="198" stroke="#555" stroke-width="0.5"/>
<rect x="118.79" y="206.3" width="3.1" height="7.2" fill="#d8493c" stroke="#b5392e" stroke-width="0.4"/>
<circle cx="119.98" cy="198" r="0.95" fill="#111"/>
<circle cx="120.66" cy="211.28" r="0.95" fill="#111"/>
<circle cx="120.21" cy="202.98" r="0.95" fill="#111"/>
<circle cx="120.29" cy="212.5" r="0.95" fill="#111"/>
<line x1="124.89" y1="167.5" x2="124.89" y2="140" stroke="#9a9a9a" stroke-width="0.8"/>
<line x1="124.09" y1="140" x2="125.69" y2="140" stroke="#555" stroke-width="0.5"/>
<rect x="123.34" y="167.5" width="3.1" height="46" fill="#e7a633" stroke="#c58925" stroke-width="0.4"/>
<circle cx="124.55" cy="140" r="0.95" fill="#111"/>
<circle cx="125.08" cy="184" r="0.95" fill="#111"/>
<circle cx="124.75" cy="156.5" r="0.95" fill="#111"/>
<circle cx="124.59" cy="200.5" r="0.95" fill="#111"/>
<line x1="132.52" y1="141" x2="132.52" y2="133" stroke="#9a9a9a" stroke-width="0.8"/>
<line x1="131.72" y1="133" x2="133.32" y2="133" stroke="#555" stroke-width="0.5"/>
<rect x="130.97" y="141" width="3.1" height="72.5" fill="#5f5f5f" stroke="#454545" stroke-width="0.4"/>
<circle cx="132.92" cy="133" r="0.95" fill="#111"/>
<circle cx="132.33" cy="145.8" r="0.95" fill="#111"/>
<circle cx="132.31" cy="137.8" r="0.95" fill="#111"/>
<circle cx="132.44" cy="150.6" r="0.95" fill="#111"/>
<line x1="137.07" y1="207.6" x2="137.07" y2="195.7" stroke="#9a9a9a" stroke-width="0.8"/>
<line x1="136.27" y1="195.7" x2="137.87" y2="195.7" stroke="#555" stroke-width="0.5"/>
<rect x="135.52" y="207.6" width="3.1" height="5.9" fill="#4b0e85" stroke="#36086a" stroke-width="0.4"/>
<circle cx="137.09" cy="195.7" r="0.95" fill="#111"/>
<circle cx="136.67" cy="212.5" r="0.95" fill="#111"/>
<circle cx="136.97" cy="202.84" r="0.95" fill="#111"/>
<circle cx="137.24" cy="212.5" r="0.95" fill="#111"/>
<line x1="141.62" y1="146.9" x2="141.62" y2="135.6" stroke="#9a9a9a" stroke-width="0.8"/>
<line x1="140.82" y1="135.6" x2="142.42" y2="135.6" stroke="#555" stroke-width="0.5"/>
<rect x="140.07" y="146.9" width="3.1" height="66.6" fill="#8c2669" stroke="#6c1b52" stroke-width="0.4"/>
<circle cx="141.84" cy="135.6" r="0.95" fill="#111"/>
<circle cx="141.45" cy="153.68" r="0.95" fill="#111"/>
<circle cx="141.52" cy="142.38" r="0.95" fill="#111"/>
<circle cx="141.64" cy="160.46" r="0.95" fill="#111"/>
<line x1="146.17" y1="151.3" x2="146.17" y2="147.5" stroke="#9a9a9a" stroke-width="0.8"/>
<line x1="145.37" y1="147.5" x2="146.97" y2="147.5" stroke="#555" stroke-width="0.5"/>
<rect x="144.62" y="151.3" width="3.1" height="62.2" fill="#d8493c" stroke="#b5392e" stroke-width="0.4"/>
<circle cx="146.45" cy="147.5" r="0.95" fill="#111"/>
<circle cx="146.34" cy="153.58" r="0.95" fill="#111"/>
<circle cx="145.82" cy="149.78" r="0.95" fill="#111"/>
<circle cx="146.36" cy="155.86" r="0.95" fill="#111"/>
<line x1="150.72" y1="150.6" x2="150.72" y2="126.9" stroke="#9a9a9a" stroke-width="0.8"/>
<line x1="149.92" y1="126.9" x2="151.52" y2="126.9" stroke="#555" stroke-width="0.5"/>
<rect x="149.17" y="150.6" width="3.1" height="62.9" fill="#e7a633" stroke="#c58925" stroke-width="0.4"/>
<circle cx="150.49" cy="126.9" r="0.95" fill="#111"/>
<circle cx="150.41" cy="164.82" r="0.95" fill="#111"/>
<circle cx="150.56" cy="141.12" r="0.95" fill="#111"/>
<circle cx="150.53" cy="179.04" r="0.95" fill="#111"/>
<line x1="158.35" y1="141.2" x2="158.35" y2="132.4" stroke="#9a9a9a" stroke-width="0.8"/>
<line x1="157.55" y1="132.4" x2="159.15" y2="132.4" stroke="#555" stroke-width="0.5"/>
<rect x="156.8" y="141.2" width="3.1" height="72.3" fill="#5f5f5f" stroke="#454545" stroke-width="0.4"/>
<circle cx="158.21" cy="132.4" r="0.95" fill="#111"/>
<circle cx="157.95" cy="146.48" r="0.95" fill="#111"/>
<circle cx="158.64" cy="137.68" r="0.95" fill="#111"/>
<circle cx="158.59" cy="151.76" r="0.95" fill="#111"/>
<line x1="162.9" y1="171" x2="162.9" y2="160.4" stroke="#9a9a9a" stroke-width="0.8"/>
<line x1="162.1" y1="160.4" x2="163.7" y2="160.4" stroke="#555" stroke-width="0.5"/>
<rect x="161.35" y="171" width="3.1" height="42.5" fill="#4b0e85" stroke="#36086a" stroke-width="0.4"/>
<circle cx="162.58" cy="160.4" r="0.95" fill="#111"/>
<circle cx="162.75" cy="177.36" r="0.95" fill="#111"/>
<circle cx="162.95" cy="166.76" r="0.95" fill="#111"/>
<circle cx="162.71" cy="183.72" r="0.95" fill="#111"/>
<line x1="167.45" y1="154.7" x2="167.45" y2="153" stroke="#9a9a9a" stroke-width="0.8"/>
<line x1="166.65" y1="153" x2="168.25" y2="153" stroke="#555" stroke-width="0.5"/>
<rect x="165.9" y="154.7" width="3.1" height="58.8" fill="#8c2669" stroke="#6c1b52" stroke-width="0.4"/>
<circle cx="167.84" cy="153" r="0.95" fill="#111"/>
<circle cx="167.52" cy="155.72" r="0.95" fill="#111"/>
<circle cx="167.25" cy="154.02" r="0.95" fill="#111"/>
<circle cx="167.15" cy="156.74" r="0.95" fill="#111"/>
<line x1="172" y1="152" x2="172" y2="146" stroke="#9a9a9a" stroke-width="0.8"/>
<line x1="171.2" y1="146" x2="172.8" y2="146" stroke="#555" stroke-width="0.5"/>
<rect x="170.45" y="152" width="3.1" height="61.5" fill="#d8493c" stroke="#b5392e" stroke-width="0.4"/>
<circle cx="172.06" cy="146" r="0.95" fill="#111"/>
<circle cx="172.05" cy="155.6" r="0.95" fill="#111"/>
<circle cx="172.23" cy="149.6" r="0.95" fill="#111"/>
<circle cx="171.96" cy="159.2" r="0.95" fill="#111"/>
<line x1="176.55" y1="149.4" x2="176.55" y2="143.3" stroke="#9a9a9a" stroke-width="0.8"/>
<line x1="175.75" y1="143.3" x2="177.35" y2="143.3" stroke="#555" stroke-width="0.5"/>
<rect x="175" y="149.4" width="3.1" height="64.1" fill="#e7a633" stroke="#c58925" stroke-width="0.4"/>
<circle cx="176.62" cy="143.3" r="0.95" fill="#111"/>
<circle cx="176.93" cy="153.06" r="0.95" fill="#111"/>
<circle cx="176.25" cy="146.96" r="0.95" fill="#111"/>
<circle cx="176.32" cy="156.72" r="0.95" fill="#111"/>
<line x1="184.18" y1="147.7" x2="184.18" y2="130.2" stroke="#9a9a9a" stroke-width="0.8"/>
<line x1="183.38" y1="130.2" x2="184.98" y2="130.2" stroke="#555" stroke-width="0.5"/>
<rect x="182.63" y="147.7" width="3.1" height="65.8" fill="#5f5f5f" stroke="#454545" stroke-width="0.4"/>
<circle cx="184.27" cy="130.2" r="0.95" fill="#111"/>
<circle cx="183.88" cy="158.2" r="0.95" fill="#111"/>
<circle cx="184.36" cy="140.7" r="0.95" fill="#111"/>
<circle cx="183.86" cy="168.7" r="0.95" fill="#111"/>
<line x1="188.73" y1="154.8" x2="188.73" y2="143.2" stroke="#9a9a9a" stroke-width="0.8"/>
<line x1="187.93" y1="143.2" x2="189.53" y2="143.2" stroke="#555" stroke-width="0.5"/>
<rect x="187.18" y="154.8" width="3.1" height="58.7" fill="#4b0e85" stroke="#36086a" stroke-width="0.4"/>
<circle cx="188.58" cy="143.2" r="0.95" fill="#111"/>
<circle cx="188.95" cy="161.76" r="0.95" fill="#111"/>
<circle cx="188.84" cy="150.16" r="0.95" fill="#111"/>
<circle cx="189.12" cy="168.72" r="0.95" fill="#111"/>
<line x1="193.28" y1="157.2" x2="193.28" y2="156" stroke="#9a9a9a" stroke-width="0.8"/>
<line x1="192.48" y1="156" x2="194.08" y2="156" stroke="#555" stroke-width="0.5"/>
<rect x="191.73" y="157.2" width="3.1" height="56.3" fill="#8c2669" stroke="#6c1b52" stroke-width="0.4"/>
<circle cx="193.34" cy="156" r="0.95" fill="#111"/>
<circle cx="193.08" cy="158.1" r="0.95" fill="#111"/>
<circle cx="192.99" cy="156.6" r="0.95" fill="#111"/>
<circle cx="193.09" cy="159" r="0.95" fill="#111"/>
<line x1="197.83" y1="152.2" x2="197.83" y2="141" stroke="#9a9a9a" stroke-width="0.8"/>
<line x1="197.03" y1="141" x2="198.63" y2="141" stroke="#555" stroke-width="0.5"/>
<rect x="196.28" y="152.2" width="3.1" height="61.3" fill="#d8493c" stroke="#b5392e" stroke-width="0.4"/>
<circle cx="197.82" cy="141" r="0.95" fill="#111"/>
<circle cx="198.02" cy="158.92" r="0.95" fill="#111"/>
<circle cx="197.68" cy="147.72" r="0.95" fill="#111"/>
<circle cx="197.48" cy="165.64" r="0.95" fill="#111"/>
<line x1="202.38" y1="156.7" x2="202.38" y2="144" stroke="#9a9a9a" stroke-width="0.8"/>
<line x1="201.58" y1="144" x2="203.18" y2="144" stroke="#555" stroke-width="0.5"/>
<rect x="200.83" y="156.7" width="3.1" height="56.8" fill="#e7a633" stroke="#c58925" stroke-width="0.4"/>
<circle cx="202" cy="144" r="0.95" fill="#111"/>
<circle cx="202.49" cy="164.32" r="0.95" fill="#111"/>
<circle cx="202.72" cy="151.62" r="0.95" fill="#111"/>
<circle cx="202.63" cy="171.94" r="0.95" fill="#111"/>
<line x1="25.5" y1="107.6" x2="25.5" y2="213.5" stroke="#1a1a1a" stroke-width="1.1"/>
<line x1="25.1" y1="213.5" x2="205.8" y2="213.5" stroke="#1a1a1a" stroke-width="1.1"/>
<line x1="38.3" y1="213.5" x2="38.3" y2="217.7" stroke="#1a1a1a" stroke-width="0.9"/>
<text x="38.3" y="224.7" font-size="6.7" font-weight="bold" font-family="Liberation Sans" text-anchor="middle" fill="#000" stroke="#000" stroke-width="0.22" textLength="6.7" lengthAdjust="spacingAndGlyphs">T7</text>
<line x1="64.13" y1="213.5" x2="64.13" y2="217.7" stroke="#1a1a1a" stroke-width="0.9"/>
<text x="64.13" y="224.7" font-size="6.7" font-weight="bold" font-family="Liberation Sans" text-anchor="middle" fill="#000" stroke="#000" stroke-width="0.22" textLength="6.7" lengthAdjust="spacingAndGlyphs">T8</text>
<line x1="89.96" y1="213.5" x2="89.96" y2="217.7" stroke="#1a1a1a" stroke-width="0.9"/>
<text x="89.96" y="224.7" font-size="6.7" font-weight="bold" font-family="Liberation Sans" text-anchor="middle" fill="#000" stroke="#000" stroke-width="0.22" textLength="6.7" lengthAdjust="spacingAndGlyphs">T9</text>
<line x1="115.79" y1="213.5" x2="115.79" y2="217.7" stroke="#1a1a1a" stroke-width="0.9"/>
<text x="115.79" y="224.7" font-size="6.7" font-weight="bold" font-family="Liberation Sans" text-anchor="middle" fill="#000" stroke="#000" stroke-width="0.22" textLength="10.05" lengthAdjust="spacingAndGlyphs">T10</text>
<line x1="141.62" y1="213.5" x2="141.62" y2="217.7" stroke="#1a1a1a" stroke-width="0.9"/>
<text x="141.62" y="224.7" font-size="6.7" font-weight="bold" font-family="Liberation Sans" text-anchor="middle" fill="#000" stroke="#000" stroke-width="0.22" textLength="10.05" lengthAdjust="spacingAndGlyphs">T11</text>
<line x1="167.45" y1="213.5" x2="167.45" y2="217.7" stroke="#1a1a1a" stroke-width="0.9"/>
<text x="167.45" y="224.7" font-size="6.7" font-weight="bold" font-family="Liberation Sans" text-anchor="middle" fill="#000" stroke="#000" stroke-width="0.22" textLength="10.05" lengthAdjust="spacingAndGlyphs">T12</text>
<line x1="193.28" y1="213.5" x2="193.28" y2="217.7" stroke="#1a1a1a" stroke-width="0.9"/>
<text x="193.28" y="224.7" font-size="6.7" font-weight="bold" font-family="Liberation Sans" text-anchor="middle" fill="#000" stroke="#000" stroke-width="0.22" textLength="10.05" lengthAdjust="spacingAndGlyphs">T13</text>
<path d="M80.86 130 V120.5 H85.41 V145" stroke="#444" stroke-width="0.9" fill="none"/>
<circle cx="76.38" cy="116.5" r="1.0" fill="#111"/>
<circle cx="80.88" cy="116.5" r="1.0" fill="#111"/>
<circle cx="85.38" cy="116.5" r="1.0" fill="#111"/>
<circle cx="89.88" cy="116.5" r="1.0" fill="#111"/>
<path d="M106.69 125 V120.6 H111.24 V206" stroke="#444" stroke-width="0.9" fill="none"/>
<circle cx="102.22" cy="116.6" r="1.0" fill="#111"/>
<circle cx="106.72" cy="116.6" r="1.0" fill="#111"/>
<circle cx="111.22" cy="116.6" r="1.0" fill="#111"/>
<circle cx="115.72" cy="116.6" r="1.0" fill="#111"/>
<path d="M106.69 110.5 V108 H115.79 V110.5" stroke="#444" stroke-width="0.9" fill="none"/>
<circle cx="104.49" cy="104" r="1.0" fill="#111"/>
<circle cx="108.99" cy="104" r="1.0" fill="#111"/>
<circle cx="113.49" cy="104" r="1.0" fill="#111"/>
<circle cx="117.99" cy="104" r="1.0" fill="#111"/>
<path d="M106.69 96.3 V93.8 H120.34 V96.3" stroke="#444" stroke-width="0.9" fill="none"/>
<circle cx="106.76" cy="89.8" r="1.0" fill="#111"/>
<circle cx="111.26" cy="89.8" r="1.0" fill="#111"/>
<circle cx="115.76" cy="89.8" r="1.0" fill="#111"/>
<circle cx="120.26" cy="89.8" r="1.0" fill="#111"/>
<path d="M106.69 84.2 V81.7 H124.89 V84.2" stroke="#444" stroke-width="0.9" fill="none"/>
<circle cx="111.29" cy="77.7" r="1.0" fill="#111"/>
<circle cx="115.79" cy="77.7" r="1.0" fill="#111"/>
<circle cx="120.29" cy="77.7" r="1.0" fill="#111"/>
<path d="M132.52 126 V121 H137.07 V193" stroke="#444" stroke-width="0.9" fill="none"/>
<circle cx="128.05" cy="117" r="1.0" fill="#111"/>
<circle cx="132.55" cy="117" r="1.0" fill="#111"/>
<circle cx="137.05" cy="117" r="1.0" fill="#111"/>
<circle cx="141.55" cy="117" r="1.0" fill="#111"/>
<path d="M158.35 126 V121 H162.9 V153" stroke="#444" stroke-width="0.9" fill="none"/>
<circle cx="156.12" cy="117" r="1.0" fill="#111"/>
<circle cx="160.62" cy="117" r="1.0" fill="#111"/>
<circle cx="165.12" cy="117" r="1.0" fill="#111"/>
<text x="8.7" y="247.6" font-size="9.8" font-weight="bold" font-family="Liberation Serif" fill="#1a1a1a">g</text>
<text transform="translate(7.3 314.6) rotate(-90)" font-size="6.9" font-weight="bold" font-family="Liberation Sans" text-anchor="middle" fill="#111" textLength="94.5" lengthAdjust="spacingAndGlyphs">Number of vessels (per mm²)</text>
<line x1="21.6" y1="366.4" x2="25.5" y2="366.4" stroke="#1a1a1a" stroke-width="1"/>
<text x="20.8" y="368.6" font-size="6.7" font-weight="bold" font-family="Liberation Sans" text-anchor="end" fill="#000" stroke="#000" stroke-width="0.22" textLength="3.15" lengthAdjust="spacingAndGlyphs">0</text>
<line x1="21.6" y1="340.45" x2="25.5" y2="340.45" stroke="#1a1a1a" stroke-width="1"/>
<text x="20.8" y="342.65" font-size="6.7" font-weight="bold" font-family="Liberation Sans" text-anchor="end" fill="#000" stroke="#000" stroke-width="0.22" textLength="9.45" lengthAdjust="spacingAndGlyphs">200</text>
<line x1="21.6" y1="314.5" x2="25.5" y2="314.5" stroke="#1a1a1a" stroke-width="1"/>
<text x="20.8" y="316.7" font-size="6.7" font-weight="bold" font-family="Liberation Sans" text-anchor="end" fill="#000" stroke="#000" stroke-width="0.22" textLength="9.45" lengthAdjust="spacingAndGlyphs">400</text>
<line x1="21.6" y1="288.55" x2="25.5" y2="288.55" stroke="#1a1a1a" stroke-width="1"/>
<text x="20.8" y="290.75" font-size="6.7" font-weight="bold" font-family="Liberation Sans" text-anchor="end" fill="#000" stroke="#000" stroke-width="0.22" textLength="9.45" lengthAdjust="spacingAndGlyphs">600</text>
<line x1="21.6" y1="262.6" x2="25.5" y2="262.6" stroke="#1a1a1a" stroke-width="1"/>
<text x="20.8" y="264.8" font-size="6.7" font-weight="bold" font-family="Liberation Sans" text-anchor="end" fill="#000" stroke="#000" stroke-width="0.22" textLength="9.45" lengthAdjust="spacingAndGlyphs">800</text>
<line x1="29.2" y1="304.5" x2="29.2" y2="298" stroke="#9a9a9a" stroke-width="0.8"/>
<line x1="28.4" y1="298" x2="30" y2="298" stroke="#555" stroke-width="0.5"/>
<rect x="27.65" y="304.5" width="3.1" height="61.9" fill="#5f5f5f" stroke="#454545" stroke-width="0.4"/>
<circle cx="28.86" cy="298" r="0.95" fill="#111"/>
<circle cx="29.38" cy="308.4" r="0.95" fill="#111"/>
<circle cx="28.9" cy="301.9" r="0.95" fill="#111"/>
<circle cx="29.22" cy="312.3" r="0.95" fill="#111"/>
<line x1="33.75" y1="304" x2="33.75" y2="295.5" stroke="#9a9a9a" stroke-width="0.8"/>
<line x1="32.95" y1="295.5" x2="34.55" y2="295.5" stroke="#555" stroke-width="0.5"/>
<rect x="32.2" y="304" width="3.1" height="62.4" fill="#4b0e85" stroke="#36086a" stroke-width="0.4"/>
<circle cx="33.9" cy="295.5" r="0.95" fill="#111"/>
<circle cx="33.62" cy="309.1" r="0.95" fill="#111"/>
<circle cx="33.48" cy="300.6" r="0.95" fill="#111"/>
<circle cx="34.01" cy="314.2" r="0.95" fill="#111"/>
<line x1="38.3" y1="304.5" x2="38.3" y2="298.5" stroke="#9a9a9a" stroke-width="0.8"/>
<line x1="37.5" y1="298.5" x2="39.1" y2="298.5" stroke="#555" stroke-width="0.5"/>
<rect x="36.75" y="304.5" width="3.1" height="61.9" fill="#8c2669" stroke="#6c1b52" stroke-width="0.4"/>
<circle cx="38.02" cy="298.5" r="0.95" fill="#111"/>
<circle cx="38.26" cy="308.1" r="0.95" fill="#111"/>
<circle cx="37.96" cy="302.1" r="0.95" fill="#111"/>
<circle cx="38.66" cy="311.7" r="0.95" fill="#111"/>
<line x1="42.85" y1="301.5" x2="42.85" y2="291.5" stroke="#9a9a9a" stroke-width="0.8"/>
<line x1="42.05" y1="291.5" x2="43.65" y2="291.5" stroke="#555" stroke-width="0.5"/>
<rect x="41.3" y="301.5" width="3.1" height="64.9" fill="#d8493c" stroke="#b5392e" stroke-width="0.4"/>
<circle cx="42.58" cy="291.5" r="0.95" fill="#111"/>
<circle cx="42.65" cy="307.5" r="0.95" fill="#111"/>
<circle cx="42.56" cy="297.5" r="0.95" fill="#111"/>
<circle cx="42.52" cy="313.5" r="0.95" fill="#111"/>
<line x1="47.4" y1="306.2" x2="47.4" y2="301.5" stroke="#9a9a9a" stroke-width="0.8"/>
<line x1="46.6" y1="301.5" x2="48.2" y2="301.5" stroke="#555" stroke-width="0.5"/>
<rect x="45.85" y="306.2" width="3.1" height="60.2" fill="#e7a633" stroke="#c58925" stroke-width="0.4"/>
<circle cx="47.16" cy="301.5" r="0.95" fill="#111"/>
<circle cx="47.06" cy="309.02" r="0.95" fill="#111"/>
<circle cx="47.2" cy="304.32" r="0.95" fill="#111"/>
<circle cx="47.31" cy="311.84" r="0.95" fill="#111"/>
<line x1="55.03" y1="302.4" x2="55.03" y2="298.9" stroke="#9a9a9a" stroke-width="0.8"/>
<line x1="54.23" y1="298.9" x2="55.83" y2="298.9" stroke="#555" stroke-width="0.5"/>
<rect x="53.48" y="302.4" width="3.1" height="64" fill="#5f5f5f" stroke="#454545" stroke-width="0.4"/>
<circle cx="55.38" cy="298.9" r="0.95" fill="#111"/>
<circle cx="55.3" cy="304.5" r="0.95" fill="#111"/>
<circle cx="54.93" cy="301" r="0.95" fill="#111"/>
<circle cx="54.93" cy="306.6" r="0.95" fill="#111"/>
<line x1="59.58" y1="300.6" x2="59.58" y2="286.1" stroke="#9a9a9a" stroke-width="0.8"/>
<line x1="58.78" y1="286.1" x2="60.38" y2="286.1" stroke="#555" stroke-width="0.5"/>
<rect x="58.03" y="300.6" width="3.1" height="65.8" fill="#4b0e85" stroke="#36086a" stroke-width="0.4"/>
<circle cx="59.86" cy="286.1" r="0.95" fill="#111"/>
<circle cx="59.25" cy="309.3" r="0.95" fill="#111"/>
<circle cx="59.82" cy="294.8" r="0.95" fill="#111"/>
<circle cx="59.2" cy="318" r="0.95" fill="#111"/>
<line x1="64.13" y1="304.1" x2="64.13" y2="301.5" stroke="#9a9a9a" stroke-width="0.8"/>
<line x1="63.33" y1="301.5" x2="64.93" y2="301.5" stroke="#555" stroke-width="0.5"/>
<rect x="62.58" y="304.1" width="3.1" height="62.3" fill="#8c2669" stroke="#6c1b52" stroke-width="0.4"/>
<circle cx="63.99" cy="301.5" r="0.95" fill="#111"/>
<circle cx="64.21" cy="305.66" r="0.95" fill="#111"/>
<circle cx="63.81" cy="303.06" r="0.95" fill="#111"/>
<circle cx="64.36" cy="307.22" r="0.95" fill="#111"/>
<line x1="68.68" y1="304.1" x2="68.68" y2="302" stroke="#9a9a9a" stroke-width="0.8"/>
<line x1="67.88" y1="302" x2="69.48" y2="302" stroke="#555" stroke-width="0.5"/>
<rect x="67.13" y="304.1" width="3.1" height="62.3" fill="#d8493c" stroke="#b5392e" stroke-width="0.4"/>
<circle cx="68.71" cy="302" r="0.95" fill="#111"/>
<circle cx="68.56" cy="305.36" r="0.95" fill="#111"/>
<circle cx="68.63" cy="303.26" r="0.95" fill="#111"/>
<circle cx="68.61" cy="306.62" r="0.95" fill="#111"/>
<line x1="73.23" y1="320.8" x2="73.23" y2="314.7" stroke="#9a9a9a" stroke-width="0.8"/>
<line x1="72.43" y1="314.7" x2="74.03" y2="314.7" stroke="#555" stroke-width="0.5"/>
<rect x="71.68" y="320.8" width="3.1" height="45.6" fill="#e7a633" stroke="#c58925" stroke-width="0.4"/>
<circle cx="72.84" cy="314.7" r="0.95" fill="#111"/>
<circle cx="72.9" cy="324.46" r="0.95" fill="#111"/>
<circle cx="73.61" cy="318.36" r="0.95" fill="#111"/>
<circle cx="73.48" cy="328.12" r="0.95" fill="#111"/>
<line x1="80.86" y1="303.75" x2="80.86" y2="299" stroke="#9a9a9a" stroke-width="0.8"/>
<line x1="80.06" y1="299" x2="81.66" y2="299" stroke="#555" stroke-width="0.5"/>
<rect x="79.31" y="303.75" width="3.1" height="62.65" fill="#5f5f5f" stroke="#454545" stroke-width="0.4"/>
<circle cx="81.08" cy="299" r="0.95" fill="#111"/>
<circle cx="80.73" cy="306.6" r="0.95" fill="#111"/>
<circle cx="80.69" cy="301.85" r="0.95" fill="#111"/>
<circle cx="80.79" cy="309.45" r="0.95" fill="#111"/>
<line x1="85.41" y1="323.75" x2="85.41" y2="315" stroke="#9a9a9a" stroke-width="0.8"/>
<line x1="84.61" y1="315" x2="86.21" y2="315" stroke="#555" stroke-width="0.5"/>
<rect x="83.86" y="323.75" width="3.1" height="42.65" fill="#4b0e85" stroke="#36086a" stroke-width="0.4"/>
<circle cx="85.37" cy="315" r="0.95" fill="#111"/>
<circle cx="85.55" cy="329" r="0.95" fill="#111"/>
<circle cx="85.26" cy="320.25" r="0.95" fill="#111"/>
<circle cx="85.75" cy="334.25" r="0.95" fill="#111"/>
<line x1="89.96" y1="308.75" x2="89.96" y2="300.6" stroke="#9a9a9a" stroke-width="0.8"/>
<line x1="89.16" y1="300.6" x2="90.76" y2="300.6" stroke="#555" stroke-width="0.5"/>
<rect x="88.41" y="308.75" width="3.1" height="57.65" fill="#8c2669" stroke="#6c1b52" stroke-width="0.4"/>
<circle cx="90.29" cy="300.6" r="0.95" fill="#111"/>
<circle cx="89.75" cy="313.64" r="0.95" fill="#111"/>
<circle cx="90.34" cy="305.49" r="0.95" fill="#111"/>
<circle cx="90.36" cy="318.53" r="0.95" fill="#111"/>
<line x1="94.51" y1="320" x2="94.51" y2="301.9" stroke="#9a9a9a" stroke-width="0.8"/>
<line x1="93.71" y1="301.9" x2="95.31" y2="301.9" stroke="#555" stroke-width="0.5"/>
<rect x="92.96" y="320" width="3.1" height="46.4" fill="#d8493c" stroke="#b5392e" stroke-width="0.4"/>
<circle cx="94.22" cy="301.9" r="0.95" fill="#111"/>
<circle cx="94.23" cy="330.86" r="0.95" fill="#111"/>
<circle cx="94.73" cy="312.76" r="0.95" fill="#111"/>
<circle cx="94.47" cy="341.72" r="0.95" fill="#111"/>
<line x1="99.06" y1="319.4" x2="99.06" y2="308.75" stroke="#9a9a9a" stroke-width="0.8"/>
<line x1="98.26" y1="308.75" x2="99.86" y2="308.75" stroke="#555" stroke-width="0.5"/>
<rect x="97.51" y="319.4" width="3.1" height="47" fill="#e7a633" stroke="#c58925" stroke-width="0.4"/>
<circle cx="99.24" cy="308.75" r="0.95" fill="#111"/>
<circle cx="99.01" cy="325.79" r="0.95" fill="#111"/>
<circle cx="99.1" cy="315.14" r="0.95" fill="#111"/>
<circle cx="99.3" cy="332.18" r="0.95" fill="#111"/>
<line x1="106.69" y1="297" x2="106.69" y2="290.5" stroke="#9a9a9a" stroke-width="0.8"/>
<line x1="105.89" y1="290.5" x2="107.49" y2="290.5" stroke="#555" stroke-width="0.5"/>
<rect x="105.14" y="297" width="3.1" height="69.4" fill="#5f5f5f" stroke="#454545" stroke-width="0.4"/>
<circle cx="106.76" cy="290.5" r="0.95" fill="#111"/>
<circle cx="106.34" cy="300.9" r="0.95" fill="#111"/>
<circle cx="106.78" cy="294.4" r="0.95" fill="#111"/>
<circle cx="106.91" cy="304.8" r="0.95" fill="#111"/>
<line x1="111.24" y1="362.2" x2="111.24" y2="353.2" stroke="#9a9a9a" stroke-width="0.8"/>
<line x1="110.44" y1="353.2" x2="112.04" y2="353.2" stroke="#555" stroke-width="0.5"/>
<rect x="109.69" y="362.2" width="3.1" height="4.2" fill="#4b0e85" stroke="#36086a" stroke-width="0.4"/>
<circle cx="111.19" cy="353.2" r="0.95" fill="#111"/>
<circle cx="110.9" cy="365.4" r="0.95" fill="#111"/>
<circle cx="111.47" cy="358.6" r="0.95" fill="#111"/>
<circle cx="111.55" cy="365.4" r="0.95" fill="#111"/>
<line x1="115.79" y1="358.8" x2="115.79" y2="348.7" stroke="#9a9a9a" stroke-width="0.8"/>
<line x1="114.99" y1="348.7" x2="116.59" y2="348.7" stroke="#555" stroke-width="0.5"/>
<rect x="114.24" y="358.8" width="3.1" height="7.6" fill="#8c2669" stroke="#6c1b52" stroke-width="0.4"/>
<circle cx="115.98" cy="348.7" r="0.95" fill="#111"/>
<circle cx="115.79" cy="364.86" r="0.95" fill="#111"/>
<circle cx="115.91" cy="354.76" r="0.95" fill="#111"/>
<circle cx="116.07" cy="365.4" r="0.95" fill="#111"/>
<line x1="120.34" y1="357.7" x2="120.34" y2="349.8" stroke="#9a9a9a" stroke-width="0.8"/>
<line x1="119.54" y1="349.8" x2="121.14" y2="349.8" stroke="#555" stroke-width="0.5"/>
<rect x="118.79" y="357.7" width="3.1" height="8.7" fill="#d8493c" stroke="#b5392e" stroke-width="0.4"/>
<circle cx="120.69" cy="349.8" r="0.95" fill="#111"/>
<circle cx="120.38" cy="362.44" r="0.95" fill="#111"/>
<circle cx="120.46" cy="354.54" r="0.95" fill="#111"/>
<circle cx="120.42" cy="365.4" r="0.95" fill="#111"/>
<line x1="124.89" y1="330.7" x2="124.89" y2="323.9" stroke="#9a9a9a" stroke-width="0.8"/>
<line x1="124.09" y1="323.9" x2="125.69" y2="323.9" stroke="#555" stroke-width="0.5"/>
<rect x="123.34" y="330.7" width="3.1" height="35.7" fill="#e7a633" stroke="#c58925" stroke-width="0.4"/>
<circle cx="124.77" cy="323.9" r="0.95" fill="#111"/>
<circle cx="124.92" cy="334.78" r="0.95" fill="#111"/>
<circle cx="124.52" cy="327.98" r="0.95" fill="#111"/>
<circle cx="124.6" cy="338.86" r="0.95" fill="#111"/>
<line x1="132.52" y1="299.4" x2="132.52" y2="291.9" stroke="#9a9a9a" stroke-width="0.8"/>
<line x1="131.72" y1="291.9" x2="133.32" y2="291.9" stroke="#555" stroke-width="0.5"/>
<rect x="130.97" y="299.4" width="3.1" height="67" fill="#5f5f5f" stroke="#454545" stroke-width="0.4"/>
<circle cx="132.81" cy="291.9" r="0.95" fill="#111"/>
<circle cx="132.77" cy="303.9" r="0.95" fill="#111"/>
<circle cx="132.78" cy="296.4" r="0.95" fill="#111"/>
<circle cx="132.48" cy="308.4" r="0.95" fill="#111"/>
<line x1="137.07" y1="358.4" x2="137.07" y2="341.3" stroke="#9a9a9a" stroke-width="0.8"/>
<line x1="136.27" y1="341.3" x2="137.87" y2="341.3" stroke="#555" stroke-width="0.5"/>
<rect x="135.52" y="358.4" width="3.1" height="8" fill="#4b0e85" stroke="#36086a" stroke-width="0.4"/>
<circle cx="137.19" cy="341.3" r="0.95" fill="#111"/>
<circle cx="136.94" cy="365.4" r="0.95" fill="#111"/>
<circle cx="137.3" cy="351.56" r="0.95" fill="#111"/>
<circle cx="137" cy="365.4" r="0.95" fill="#111"/>
<line x1="141.62" y1="313.75" x2="141.62" y2="310" stroke="#9a9a9a" stroke-width="0.8"/>
<line x1="140.82" y1="310" x2="142.42" y2="310" stroke="#555" stroke-width="0.5"/>
<rect x="140.07" y="313.75" width="3.1" height="52.65" fill="#8c2669" stroke="#6c1b52" stroke-width="0.4"/>
<circle cx="141.95" cy="310" r="0.95" fill="#111"/>
<circle cx="141.77" cy="316" r="0.95" fill="#111"/>
<circle cx="141.4" cy="312.25" r="0.95" fill="#111"/>
<circle cx="141.87" cy="318.25" r="0.95" fill="#111"/>
<line x1="146.17" y1="315" x2="146.17" y2="309" stroke="#9a9a9a" stroke-width="0.8"/>
<line x1="145.37" y1="309" x2="146.97" y2="309" stroke="#555" stroke-width="0.5"/>
<rect x="144.62" y="315" width="3.1" height="51.4" fill="#d8493c" stroke="#b5392e" stroke-width="0.4"/>
<circle cx="146.55" cy="309" r="0.95" fill="#111"/>
<circle cx="146.33" cy="318.6" r="0.95" fill="#111"/>
<circle cx="146.19" cy="312.6" r="0.95" fill="#111"/>
<circle cx="146.45" cy="322.2" r="0.95" fill="#111"/>
<line x1="150.72" y1="303.75" x2="150.72" y2="292.5" stroke="#9a9a9a" stroke-width="0.8"/>
<line x1="149.92" y1="292.5" x2="151.52" y2="292.5" stroke="#555" stroke-width="0.5"/>
<rect x="149.17" y="303.75" width="3.1" height="62.65" fill="#e7a633" stroke="#c58925" stroke-width="0.4"/>
<circle cx="150.93" cy="292.5" r="0.95" fill="#111"/>
<circle cx="150.62" cy="310.5" r="0.95" fill="#111"/>
<circle cx="150.87" cy="299.25" r="0.95" fill="#111"/>
<circle cx="150.66" cy="317.25" r="0.95" fill="#111"/>
<line x1="158.35" y1="301" x2="158.35" y2="293" stroke="#9a9a9a" stroke-width="0.8"/>
<line x1="157.55" y1="293" x2="159.15" y2="293" stroke="#555" stroke-width="0.5"/>
<rect x="156.8" y="301" width="3.1" height="65.4" fill="#5f5f5f" stroke="#454545" stroke-width="0.4"/>
<circle cx="158" cy="293" r="0.95" fill="#111"/>
<circle cx="158.36" cy="305.8" r="0.95" fill="#111"/>
<circle cx="158.05" cy="297.8" r="0.95" fill="#111"/>
<circle cx="158.33" cy="310.6" r="0.95" fill="#111"/>
<line x1="162.9" y1="329.4" x2="162.9" y2="311" stroke="#9a9a9a" stroke-width="0.8"/>
<line x1="162.1" y1="311" x2="163.7" y2="311" stroke="#555" stroke-width="0.5"/>
<rect x="161.35" y="329.4" width="3.1" height="37" fill="#4b0e85" stroke="#36086a" stroke-width="0.4"/>
<circle cx="163.15" cy="311" r="0.95" fill="#111"/>
<circle cx="162.68" cy="340.44" r="0.95" fill="#111"/>
<circle cx="162.58" cy="322.04" r="0.95" fill="#111"/>
<circle cx="163.17" cy="351.48" r="0.95" fill="#111"/>
<line x1="167.45" y1="313" x2="167.45" y2="310" stroke="#9a9a9a" stroke-width="0.8"/>
<line x1="166.65" y1="310" x2="168.25" y2="310" stroke="#555" stroke-width="0.5"/>
<rect x="165.9" y="313" width="3.1" height="53.4" fill="#8c2669" stroke="#6c1b52" stroke-width="0.4"/>
<circle cx="167.38" cy="310" r="0.95" fill="#111"/>
<circle cx="167.42" cy="314.8" r="0.95" fill="#111"/>
<circle cx="167.5" cy="311.8" r="0.95" fill="#111"/>
<circle cx="167.11" cy="316.6" r="0.95" fill="#111"/>
<line x1="172" y1="314" x2="172" y2="305" stroke="#9a9a9a" stroke-width="0.8"/>
<line x1="171.2" y1="305" x2="172.8" y2="305" stroke="#555" stroke-width="0.5"/>
<rect x="170.45" y="314" width="3.1" height="52.4" fill="#d8493c" stroke="#b5392e" stroke-width="0.4"/>
<circle cx="172.22" cy="305" r="0.95" fill="#111"/>
<circle cx="172.27" cy="319.4" r="0.95" fill="#111"/>
<circle cx="171.93" cy="310.4" r="0.95" fill="#111"/>
<circle cx="172.31" cy="324.8" r="0.95" fill="#111"/>
<line x1="176.55" y1="313" x2="176.55" y2="311" stroke="#9a9a9a" stroke-width="0.8"/>
<line x1="175.75" y1="311" x2="177.35" y2="311" stroke="#555" stroke-width="0.5"/>
<rect x="175" y="313" width="3.1" height="53.4" fill="#e7a633" stroke="#c58925" stroke-width="0.4"/>
<circle cx="176.38" cy="311" r="0.95" fill="#111"/>
<circle cx="176.73" cy="314.2" r="0.95" fill="#111"/>
<circle cx="176.27" cy="312.2" r="0.95" fill="#111"/>
<circle cx="176.9" cy="315.4" r="0.95" fill="#111"/>
<line x1="184.18" y1="310" x2="184.18" y2="300.6" stroke="#9a9a9a" stroke-width="0.8"/>
<line x1="183.38" y1="300.6" x2="184.98" y2="300.6" stroke="#555" stroke-width="0.5"/>
<rect x="182.63" y="310" width="3.1" height="56.4" fill="#5f5f5f" stroke="#454545" stroke-width="0.4"/>
<circle cx="184.19" cy="300.6" r="0.95" fill="#111"/>
<circle cx="184.26" cy="315.64" r="0.95" fill="#111"/>
<circle cx="184.47" cy="306.24" r="0.95" fill="#111"/>
<circle cx="184.14" cy="321.28" r="0.95" fill="#111"/>
<line x1="188.73" y1="317.5" x2="188.73" y2="311.9" stroke="#9a9a9a" stroke-width="0.8"/>
<line x1="187.93" y1="311.9" x2="189.53" y2="311.9" stroke="#555" stroke-width="0.5"/>
<rect x="187.18" y="317.5" width="3.1" height="48.9" fill="#4b0e85" stroke="#36086a" stroke-width="0.4"/>
<circle cx="188.67" cy="311.9" r="0.95" fill="#111"/>
<circle cx="188.78" cy="320.86" r="0.95" fill="#111"/>
<circle cx="188.65" cy="315.26" r="0.95" fill="#111"/>
<circle cx="188.85" cy="324.22" r="0.95" fill="#111"/>
<line x1="193.28" y1="313.75" x2="193.28" y2="306.9" stroke="#9a9a9a" stroke-width="0.8"/>
<line x1="192.48" y1="306.9" x2="194.08" y2="306.9" stroke="#555" stroke-width="0.5"/>
<rect x="191.73" y="313.75" width="3.1" height="52.65" fill="#8c2669" stroke="#6c1b52" stroke-width="0.4"/>
<circle cx="193.5" cy="306.9" r="0.95" fill="#111"/>
<circle cx="192.89" cy="317.86" r="0.95" fill="#111"/>
<circle cx="193.21" cy="311.01" r="0.95" fill="#111"/>
<circle cx="193.57" cy="321.97" r="0.95" fill="#111"/>
<line x1="197.83" y1="315.6" x2="197.83" y2="309.4" stroke="#9a9a9a" stroke-width="0.8"/>
<line x1="197.03" y1="309.4" x2="198.63" y2="309.4" stroke="#555" stroke-width="0.5"/>
<rect x="196.28" y="315.6" width="3.1" height="50.8" fill="#d8493c" stroke="#b5392e" stroke-width="0.4"/>
<circle cx="198.16" cy="309.4" r="0.95" fill="#111"/>
<circle cx="198.05" cy="319.32" r="0.95" fill="#111"/>
<circle cx="198.2" cy="313.12" r="0.95" fill="#111"/>
<circle cx="198.06" cy="323.04" r="0.95" fill="#111"/>
<line x1="202.38" y1="306.9" x2="202.38" y2="296.25" stroke="#9a9a9a" stroke-width="0.8"/>
<line x1="201.58" y1="296.25" x2="203.18" y2="296.25" stroke="#555" stroke-width="0.5"/>
<rect x="200.83" y="306.9" width="3.1" height="59.5" fill="#e7a633" stroke="#c58925" stroke-width="0.4"/>
<circle cx="202.64" cy="296.25" r="0.95" fill="#111"/>
<circle cx="201.99" cy="313.29" r="0.95" fill="#111"/>
<circle cx="202.61" cy="302.64" r="0.95" fill="#111"/>
<circle cx="202.14" cy="319.68" r="0.95" fill="#111"/>
<line x1="25.5" y1="262.2" x2="25.5" y2="366.4" stroke="#1a1a1a" stroke-width="1.1"/>
<line x1="25.1" y1="366.4" x2="205.8" y2="366.4" stroke="#1a1a1a" stroke-width="1.1"/>
<line x1="38.3" y1="366.4" x2="38.3" y2="370.6" stroke="#1a1a1a" stroke-width="0.9"/>
<text x="38.3" y="377.6" font-size="6.7" font-weight="bold" font-family="Liberation Sans" text-anchor="middle" fill="#000" stroke="#000" stroke-width="0.22" textLength="6.7" lengthAdjust="spacingAndGlyphs">T7</text>
<line x1="64.13" y1="366.4" x2="64.13" y2="370.6" stroke="#1a1a1a" stroke-width="0.9"/>
<text x="64.13" y="377.6" font-size="6.7" font-weight="bold" font-family="Liberation Sans" text-anchor="middle" fill="#000" stroke="#000" stroke-width="0.22" textLength="6.7" lengthAdjust="spacingAndGlyphs">T8</text>
<line x1="89.96" y1="366.4" x2="89.96" y2="370.6" stroke="#1a1a1a" stroke-width="0.9"/>
<text x="89.96" y="377.6" font-size="6.7" font-weight="bold" font-family="Liberation Sans" text-anchor="middle" fill="#000" stroke="#000" stroke-width="0.22" textLength="6.7" lengthAdjust="spacingAndGlyphs">T9</text>
<line x1="115.79" y1="366.4" x2="115.79" y2="370.6" stroke="#1a1a1a" stroke-width="0.9"/>
<text x="115.79" y="377.6" font-size="6.7" font-weight="bold" font-family="Liberation Sans" text-anchor="middle" fill="#000" stroke="#000" stroke-width="0.22" textLength="10.05" lengthAdjust="spacingAndGlyphs">T10</text>
<line x1="141.62" y1="366.4" x2="141.62" y2="370.6" stroke="#1a1a1a" stroke-width="0.9"/>
<text x="141.62" y="377.6" font-size="6.7" font-weight="bold" font-family="Liberation Sans" text-anchor="middle" fill="#000" stroke="#000" stroke-width="0.22" textLength="10.05" lengthAdjust="spacingAndGlyphs">T11</text>
<line x1="167.45" y1="366.4" x2="167.45" y2="370.6" stroke="#1a1a1a" stroke-width="0.9"/>
<text x="167.45" y="377.6" font-size="6.7" font-weight="bold" font-family="Liberation Sans" text-anchor="middle" fill="#000" stroke="#000" stroke-width="0.22" textLength="10.05" lengthAdjust="spacingAndGlyphs">T12</text>
<line x1="193.28" y1="366.4" x2="193.28" y2="370.6" stroke="#1a1a1a" stroke-width="0.9"/>
<text x="193.28" y="377.6" font-size="6.7" font-weight="bold" font-family="Liberation Sans" text-anchor="middle" fill="#000" stroke="#000" stroke-width="0.22" textLength="10.05" lengthAdjust="spacingAndGlyphs">T13</text>
<path d="M55.03 291 V278 H73.23 V313" stroke="#444" stroke-width="0.9" fill="none"/>
<circle cx="64.13" cy="274" r="1.0" fill="#111"/>
<path d="M80.86 293 V278 H85.41 V313" stroke="#444" stroke-width="0.9" fill="none"/>
<circle cx="80.88" cy="274" r="1.0" fill="#111"/>
<circle cx="85.38" cy="274" r="1.0" fill="#111"/>
<path d="M80.86 267.5 V262.6 H94.51 V300.5" stroke="#444" stroke-width="0.9" fill="none"/>
<circle cx="87.69" cy="258.6" r="1.0" fill="#111"/>
<path d="M106.69 287.5 V283 H111.24 V351" stroke="#444" stroke-width="0.9" fill="none"/>
<circle cx="102.22" cy="279" r="1.0" fill="#111"/>
<circle cx="106.72" cy="279" r="1.0" fill="#111"/>
<circle cx="111.22" cy="279" r="1.0" fill="#111"/>
<circle cx="115.72" cy="279" r="1.0" fill="#111"/>
<path d="M106.69 273.5 V271 H115.79 V273.5" stroke="#444" stroke-width="0.9" fill="none"/>
<circle cx="104.49" cy="267" r="1.0" fill="#111"/>
<circle cx="108.99" cy="267" r="1.0" fill="#111"/>
<circle cx="113.49" cy="267" r="1.0" fill="#111"/>
<circle cx="117.99" cy="267" r="1.0" fill="#111"/>
<path d="M106.69 259.8 V257.3 H120.34 V259.8" stroke="#444" stroke-width="0.9" fill="none"/>
<circle cx="106.76" cy="253.3" r="1.0" fill="#111"/>
<circle cx="111.26" cy="253.3" r="1.0" fill="#111"/>
<circle cx="115.76" cy="253.3" r="1.0" fill="#111"/>
<circle cx="120.26" cy="253.3" r="1.0" fill="#111"/>
<path d="M106.69 246.5 V244 H124.89 V246.5" stroke="#444" stroke-width="0.9" fill="none"/>
<circle cx="109.04" cy="240" r="1.0" fill="#111"/>
<circle cx="113.54" cy="240" r="1.0" fill="#111"/>
<circle cx="118.04" cy="240" r="1.0" fill="#111"/>
<circle cx="122.54" cy="240" r="1.0" fill="#111"/>
<path d="M132.52 287 V278.2 H137.07 V339" stroke="#444" stroke-width="0.9" fill="none"/>
<circle cx="128.05" cy="274.2" r="1.0" fill="#111"/>
<circle cx="132.55" cy="274.2" r="1.0" fill="#111"/>
<circle cx="137.05" cy="274.2" r="1.0" fill="#111"/>
<circle cx="141.55" cy="274.2" r="1.0" fill="#111"/>
<path d="M158.35 285 V278.6 H162.9 V309" stroke="#444" stroke-width="0.9" fill="none"/>
<circle cx="153.88" cy="274.6" r="1.0" fill="#111"/>
<circle cx="158.38" cy="274.6" r="1.0" fill="#111"/>
<circle cx="162.88" cy="274.6" r="1.0" fill="#111"/>
<circle cx="167.38" cy="274.6" r="1.0" fill="#111"/>
<text x="223.8" y="89.8" font-size="9.8" font-family="Liberation Sans" fill="#111">f</text>
<text transform="translate(221.8 160.3) rotate(-90)" font-size="6.9" font-weight="bold" font-family="Liberation Sans" text-anchor="middle" fill="#111" textLength="95" lengthAdjust="spacingAndGlyphs">Number of vessels (per mm²)</text>
<line x1="238" y1="213.1" x2="241.9" y2="213.1" stroke="#1a1a1a" stroke-width="1"/>
<text x="236.4" y="215.3" font-size="6.7" font-weight="bold" font-family="Liberation Sans" text-anchor="end" fill="#000" stroke="#000" stroke-width="0.22" textLength="3.15" lengthAdjust="spacingAndGlyphs">0</text>
<line x1="238" y1="186.75" x2="241.9" y2="186.75" stroke="#1a1a1a" stroke-width="1"/>
<text x="236.4" y="188.95" font-size="6.7" font-weight="bold" font-family="Liberation Sans" text-anchor="end" fill="#000" stroke="#000" stroke-width="0.22" textLength="9.45" lengthAdjust="spacingAndGlyphs">200</text>
<line x1="238" y1="160.4" x2="241.9" y2="160.4" stroke="#1a1a1a" stroke-width="1"/>
<text x="236.4" y="162.6" font-size="6.7" font-weight="bold" font-family="Liberation Sans" text-anchor="end" fill="#000" stroke="#000" stroke-width="0.22" textLength="9.45" lengthAdjust="spacingAndGlyphs">400</text>
<line x1="238" y1="134.05" x2="241.9" y2="134.05" stroke="#1a1a1a" stroke-width="1"/>
<text x="236.4" y="136.25" font-size="6.7" font-weight="bold" font-family="Liberation Sans" text-anchor="end" fill="#000" stroke="#000" stroke-width="0.22" textLength="9.45" lengthAdjust="spacingAndGlyphs">600</text>
<line x1="238" y1="107.7" x2="241.9" y2="107.7" stroke="#1a1a1a" stroke-width="1"/>
<text x="236.4" y="109.9" font-size="6.7" font-weight="bold" font-family="Liberation Sans" text-anchor="end" fill="#000" stroke="#000" stroke-width="0.22" textLength="9.45" lengthAdjust="spacingAndGlyphs">800</text>
<path d="M250.3 130.04 L266.75 126.54 L283.2 132.38 L299.65 125.05 L316.1 132.76 L332.55 132.96 L349 140.77 L349 153.95 L332.55 148.77 L316.1 148.57 L299.65 136.91 L283.2 138.97 L266.75 131.81 L250.3 135.31 Z" fill="#d9d6d0" opacity="0.42"/>
<path d="M250.3 130.72 L266.75 133.72 L283.2 134.46 L299.65 146.06 L316.1 142.35 L332.55 145.11 L349 151.08 L349 161.62 L332.55 153.01 L316.1 158.16 L299.65 188.22 L283.2 150.27 L266.75 141.62 L250.3 138.63 Z" fill="#f9e2b0" opacity="0.35"/>
<path d="M250.3 128.92 L266.75 135.6 L283.2 138.41 L299.65 201.95 L316.1 145.69 L332.55 147.71 L349 147.91 L349 155.81 L332.55 155.61 L316.1 156.23 L299.65 209.86 L283.2 146.32 L266.75 146.14 L250.3 136.83 Z" fill="#f6c7b8" opacity="0.25"/>
<path d="M250.3 124.41 L266.75 131.56 L283.2 139.62 L299.65 199.34 L316.1 138.66 L332.55 149.09 L349 152.9 L349 160.81 L332.55 159.63 L316.1 154.47 L299.65 209.88 L283.2 154.11 L266.75 147.37 L250.3 141.54 Z" fill="#efb6c8" opacity="0.25"/>
<path d="M250.3 123.25 L266.75 116.14 L283.2 151.08 L299.65 202.16 L316.1 188.76 L332.55 150.88 L349 146.55 L349 162.36 L332.55 190.4 L316.1 213.1 L299.65 213.1 L283.2 190.6 L266.75 137.22 L250.3 141.7 Z" fill="#c9b6e8" opacity="0.22"/>
<path d="M250.3 132.68 L266.75 129.18 L283.2 135.67 L299.65 130.98 L316.1 140.67 L332.55 140.87 L349 147.36" stroke="#5a5a5a" stroke-width="1.25" fill="none" stroke-linejoin="miter"/>
<path d="M250.3 134.67 L266.75 137.67 L283.2 142.37 L299.65 167.14 L316.1 150.26 L332.55 149.06 L349 156.35" stroke="#dfa53a" stroke-width="1.25" fill="none" stroke-linejoin="miter"/>
<path d="M250.3 132.88 L266.75 140.87 L283.2 142.37 L299.65 205.91 L316.1 150.96 L332.55 151.66 L349 151.86" stroke="#d8463a" stroke-width="1.25" fill="none" stroke-linejoin="miter"/>
<path d="M250.3 132.98 L266.75 139.47 L283.2 146.86 L299.65 204.61 L316.1 146.56 L332.55 154.36 L349 156.85" stroke="#8e1c4c" stroke-width="1.25" fill="none" stroke-linejoin="miter"/>
<path d="M250.3 132.48 L266.75 126.68 L283.2 170.84 L299.65 212.7 L316.1 207.21 L332.55 170.64 L349 154.46" stroke="#331d5e" stroke-width="1.25" fill="none" stroke-linejoin="miter"/>
<line x1="241.9" y1="107.3" x2="241.9" y2="213.1" stroke="#1a1a1a" stroke-width="1.1"/>
<line x1="241.5" y1="213.1" x2="356.8" y2="213.1" stroke="#1a1a1a" stroke-width="1.1"/>
<line x1="250.3" y1="213.1" x2="250.3" y2="217.3" stroke="#1a1a1a" stroke-width="0.9"/>
<text x="250.3" y="224.7" font-size="6.7" font-weight="bold" font-family="Liberation Sans" text-anchor="middle" fill="#000" stroke="#000" stroke-width="0.22" textLength="6.7" lengthAdjust="spacingAndGlyphs">T7</text>
<line x1="266.75" y1="213.1" x2="266.75" y2="217.3" stroke="#1a1a1a" stroke-width="0.9"/>
<text x="266.75" y="224.7" font-size="6.7" font-weight="bold" font-family="Liberation Sans" text-anchor="middle" fill="#000" stroke="#000" stroke-width="0.22" textLength="6.7" lengthAdjust="spacingAndGlyphs">T8</text>
<line x1="283.2" y1="213.1" x2="283.2" y2="217.3" stroke="#1a1a1a" stroke-width="0.9"/>
<text x="283.2" y="224.7" font-size="6.7" font-weight="bold" font-family="Liberation Sans" text-anchor="middle" fill="#000" stroke="#000" stroke-width="0.22" textLength="6.7" lengthAdjust="spacingAndGlyphs">T9</text>
<line x1="299.65" y1="213.1" x2="299.65" y2="217.3" stroke="#1a1a1a" stroke-width="0.9"/>
<text x="299.65" y="224.7" font-size="6.7" font-weight="bold" font-family="Liberation Sans" text-anchor="middle" fill="#000" stroke="#000" stroke-width="0.22" textLength="10.05" lengthAdjust="spacingAndGlyphs">T10</text>
<line x1="316.1" y1="213.1" x2="316.1" y2="217.3" stroke="#1a1a1a" stroke-width="0.9"/>
<text x="316.1" y="224.7" font-size="6.7" font-weight="bold" font-family="Liberation Sans" text-anchor="middle" fill="#000" stroke="#000" stroke-width="0.22" textLength="10.05" lengthAdjust="spacingAndGlyphs">T11</text>
<line x1="332.55" y1="213.1" x2="332.55" y2="217.3" stroke="#1a1a1a" stroke-width="0.9"/>
<text x="332.55" y="224.7" font-size="6.7" font-weight="bold" font-family="Liberation Sans" text-anchor="middle" fill="#000" stroke="#000" stroke-width="0.22" textLength="10.05" lengthAdjust="spacingAndGlyphs">T12</text>
<line x1="349" y1="213.1" x2="349" y2="217.3" stroke="#1a1a1a" stroke-width="0.9"/>
<text x="349" y="224.7" font-size="6.7" font-weight="bold" font-family="Liberation Sans" text-anchor="middle" fill="#000" stroke="#000" stroke-width="0.22" textLength="10.05" lengthAdjust="spacingAndGlyphs">T13</text>
<text x="223.8" y="248.2" font-size="9.8" font-family="Liberation Sans" fill="#111">h</text>
<text transform="translate(221.8 313.2) rotate(-90)" font-size="6.9" font-weight="bold" font-family="Liberation Sans" text-anchor="middle" fill="#111" textLength="95" lengthAdjust="spacingAndGlyphs">Number of vessels (per mm²)</text>
<line x1="238" y1="365.5" x2="241.9" y2="365.5" stroke="#1a1a1a" stroke-width="1"/>
<text x="236.4" y="367.7" font-size="6.7" font-weight="bold" font-family="Liberation Sans" text-anchor="end" fill="#000" stroke="#000" stroke-width="0.22" textLength="3.15" lengthAdjust="spacingAndGlyphs">0</text>
<line x1="238" y1="339.3" x2="241.9" y2="339.3" stroke="#1a1a1a" stroke-width="1"/>
<text x="236.4" y="341.5" font-size="6.7" font-weight="bold" font-family="Liberation Sans" text-anchor="end" fill="#000" stroke="#000" stroke-width="0.22" textLength="9.45" lengthAdjust="spacingAndGlyphs">200</text>
<line x1="238" y1="313.1" x2="241.9" y2="313.1" stroke="#1a1a1a" stroke-width="1"/>
<text x="236.4" y="315.3" font-size="6.7" font-weight="bold" font-family="Liberation Sans" text-anchor="end" fill="#000" stroke="#000" stroke-width="0.22" textLength="9.45" lengthAdjust="spacingAndGlyphs">400</text>
<line x1="238" y1="286.9" x2="241.9" y2="286.9" stroke="#1a1a1a" stroke-width="1"/>
<text x="236.4" y="289.1" font-size="6.7" font-weight="bold" font-family="Liberation Sans" text-anchor="end" fill="#000" stroke="#000" stroke-width="0.22" textLength="9.45" lengthAdjust="spacingAndGlyphs">600</text>
<line x1="238" y1="260.7" x2="241.9" y2="260.7" stroke="#1a1a1a" stroke-width="1"/>
<text x="236.4" y="262.9" font-size="6.7" font-weight="bold" font-family="Liberation Sans" text-anchor="end" fill="#000" stroke="#000" stroke-width="0.22" textLength="9.45" lengthAdjust="spacingAndGlyphs">800</text>
<path d="M250.3 299.07 L266.75 296.95 L283.2 298.32 L299.65 290.19 L316.1 293.92 L332.55 295.54 L349 304.63 L349 312.49 L332.55 303.4 L316.1 301.78 L299.65 300.67 L283.2 306.18 L266.75 304.81 L250.3 306.93 Z" fill="#d9d6d0" opacity="0.42"/>
<path d="M250.3 299.48 L266.75 315.53 L283.2 310.19 L299.65 321.6 L316.1 295.7 L332.55 307.66 L349 301.5 L349 309.36 L332.55 315.52 L316.1 308.8 L299.65 337.32 L283.2 325.91 L266.75 323.39 L250.3 309.96 Z" fill="#f9e2b0" opacity="0.35"/>
<path d="M250.3 297.35 L266.75 299.98 L283.2 313.41 L299.65 352.79 L316.1 309.67 L332.55 308.67 L349 310.28 L349 318.14 L332.55 316.53 L316.1 317.53 L299.65 360.65 L283.2 323.89 L266.75 305.22 L250.3 302.59 Z" fill="#f6c7b8" opacity="0.25"/>
<path d="M250.3 299.07 L266.75 298.67 L283.2 302.05 L299.65 353.9 L316.1 308.41 L332.55 307.66 L349 308.41 L349 316.27 L332.55 315.52 L316.1 316.27 L299.65 361.76 L283.2 312.53 L266.75 306.53 L250.3 306.93 Z" fill="#efb6c8" opacity="0.25"/>
<path d="M250.3 297.26 L266.75 293.83 L283.2 311.96 L299.65 356.02 L316.1 340.39 L332.55 313.73 L349 308.27 L349 323.99 L332.55 342.55 L316.1 365.5 L299.65 365.5 L283.2 332.92 L266.75 304.31 L250.3 307.74 Z" fill="#c9b6e8" opacity="0.22"/>
<path d="M250.3 303 L266.75 300.88 L283.2 302.25 L299.65 295.43 L316.1 297.85 L332.55 299.47 L349 308.56" stroke="#5a5a5a" stroke-width="1.25" fill="none" stroke-linejoin="miter"/>
<path d="M250.3 304.72 L266.75 319.46 L283.2 318.05 L299.65 329.46 L316.1 302.25 L332.55 311.59 L349 305.43" stroke="#dfa53a" stroke-width="1.25" fill="none" stroke-linejoin="miter"/>
<path d="M250.3 299.97 L266.75 302.6 L283.2 318.65 L299.65 356.72 L316.1 313.6 L332.55 312.6 L349 314.21" stroke="#d8463a" stroke-width="1.25" fill="none" stroke-linejoin="miter"/>
<path d="M250.3 303 L266.75 302.6 L283.2 307.29 L299.65 357.83 L316.1 312.34 L332.55 311.59 L349 312.34" stroke="#8e1c4c" stroke-width="1.25" fill="none" stroke-linejoin="miter"/>
<path d="M250.3 302.5 L266.75 299.07 L283.2 322.44 L299.65 361.26 L316.1 357.42 L332.55 328.14 L349 316.13" stroke="#331d5e" stroke-width="1.25" fill="none" stroke-linejoin="miter"/>
<line x1="241.9" y1="260.3" x2="241.9" y2="365.5" stroke="#1a1a1a" stroke-width="1.1"/>
<line x1="241.5" y1="365.5" x2="356.8" y2="365.5" stroke="#1a1a1a" stroke-width="1.1"/>
<line x1="250.3" y1="365.5" x2="250.3" y2="369.7" stroke="#1a1a1a" stroke-width="0.9"/>
<text x="250.3" y="377.1" font-size="6.7" font-weight="bold" font-family="Liberation Sans" text-anchor="middle" fill="#000" stroke="#000" stroke-width="0.22" textLength="6.7" lengthAdjust="spacingAndGlyphs">T7</text>
<line x1="266.75" y1="365.5" x2="266.75" y2="369.7" stroke="#1a1a1a" stroke-width="0.9"/>
<text x="266.75" y="377.1" font-size="6.7" font-weight="bold" font-family="Liberation Sans" text-anchor="middle" fill="#000" stroke="#000" stroke-width="0.22" textLength="6.7" lengthAdjust="spacingAndGlyphs">T8</text>
<line x1="283.2" y1="365.5" x2="283.2" y2="369.7" stroke="#1a1a1a" stroke-width="0.9"/>
<text x="283.2" y="377.1" font-size="6.7" font-weight="bold" font-family="Liberation Sans" text-anchor="middle" fill="#000" stroke="#000" stroke-width="0.22" textLength="6.7" lengthAdjust="spacingAndGlyphs">T9</text>
<line x1="299.65" y1="365.5" x2="299.65" y2="369.7" stroke="#1a1a1a" stroke-width="0.9"/>
<text x="299.65" y="377.1" font-size="6.7" font-weight="bold" font-family="Liberation Sans" text-anchor="middle" fill="#000" stroke="#000" stroke-width="0.22" textLength="10.05" lengthAdjust="spacingAndGlyphs">T10</text>
<line x1="316.1" y1="365.5" x2="316.1" y2="369.7" stroke="#1a1a1a" stroke-width="0.9"/>
<text x="316.1" y="377.1" font-size="6.7" font-weight="bold" font-family="Liberation Sans" text-anchor="middle" fill="#000" stroke="#000" stroke-width="0.22" textLength="10.05" lengthAdjust="spacingAndGlyphs">T11</text>
<line x1="332.55" y1="365.5" x2="332.55" y2="369.7" stroke="#1a1a1a" stroke-width="0.9"/>
<text x="332.55" y="377.1" font-size="6.7" font-weight="bold" font-family="Liberation Sans" text-anchor="middle" fill="#000" stroke="#000" stroke-width="0.22" textLength="10.05" lengthAdjust="spacingAndGlyphs">T12</text>
<line x1="349" y1="365.5" x2="349" y2="369.7" stroke="#1a1a1a" stroke-width="0.9"/>
<text x="349" y="377.1" font-size="6.7" font-weight="bold" font-family="Liberation Sans" text-anchor="middle" fill="#000" stroke="#000" stroke-width="0.22" textLength="10.05" lengthAdjust="spacingAndGlyphs">T13</text>
<rect x="65.5" y="391.4" width="10" height="4.4" fill="#5f5f5f" stroke="#454545" stroke-width="0.4"/>
<text x="82.1" y="396.3" font-size="7.7" font-family="Liberation Sans" fill="#000">Sham</text>
<rect x="111.6" y="391.4" width="10" height="4.4" fill="#4b0e85" stroke="#36086a" stroke-width="0.4"/>
<text x="128.2" y="396.3" font-size="7.7" font-family="Liberation Sans" fill="#000">Day 2</text>
<rect x="158.8" y="391.4" width="10" height="4.4" fill="#8c2669" stroke="#6c1b52" stroke-width="0.4"/>
<text x="175.4" y="396.3" font-size="7.7" font-family="Liberation Sans" fill="#000">Day 5</text>
<rect x="205.3" y="391.4" width="10" height="4.4" fill="#d8493c" stroke="#b5392e" stroke-width="0.4"/>
<text x="221.9" y="396.3" font-size="7.7" font-family="Liberation Sans" fill="#000">Day 15</text>
<rect x="253" y="391.4" width="10" height="4.4" fill="#e7a633" stroke="#c58925" stroke-width="0.4"/>
<text x="269.6" y="396.3" font-size="7.7" font-family="Liberation Sans" fill="#000">Day 45</text>
</svg>
</body></html>
